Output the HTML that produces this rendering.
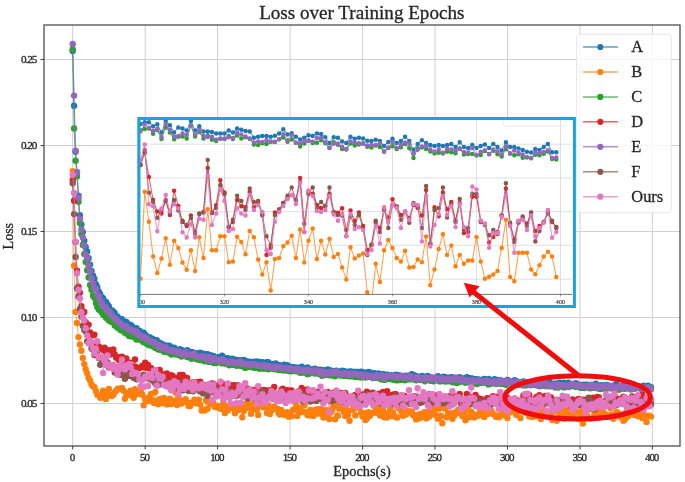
<!DOCTYPE html><html><head><meta charset="utf-8"><style>html,body{margin:0;padding:0;background:#fff;width:685px;height:482px;overflow:hidden}svg{display:block;filter:blur(0.45px)}text{font-family:"Liberation Serif",serif;fill:#262626;stroke:#262626;stroke-width:0.3px}</style></head><body>
<svg width="685" height="482" viewBox="0 0 685 482">
<defs><clipPath id="pc"><rect x="44" y="25" width="636" height="421"/></clipPath><clipPath id="tc"><rect x="140.2" y="295" width="432" height="12"/></clipPath><clipPath id="ic"><rect x="139" y="119" width="433.2" height="175.4"/></clipPath></defs>
<path d="M72.7 25V446M145.2 25V446M217.6 25V446M290.1 25V446M362.6 25V446M435 25V446M507.5 25V446M580 25V446M652.4 25V446M44 403.5H680M44 317.5H680M44 231.5H680M44 145.5H680M44 59.5H680" stroke="#d0d0d0" stroke-width="1" fill="none"/>
<g clip-path="url(#pc)">
<path d="M72.7 50.9 74.1 105.7 75.6 151.8 77 172.1 78.5 195.8 79.9 215.2 81.4 224.4 82.8 232.1 84.3 240.6 85.7 247 87.2 251.7 88.6 258.3 90.1 264.6 91.5 271 93 275.4 94.4 278.7 95.9 284.2 97.3 287 98.8 291.6 100.2 294.2 101.7 297.1 103.1 298.1 104.6 301.2 106 302 107.5 304.2 108.9 306.5 110.4 310.3 111.8 310.3 113.3 311.5 114.7 313 116.2 316 117.6 316.6 119.1 318.5 120.5 319.7 122 319.1 123.4 321.6 124.9 321.8 126.3 321.9 127.8 324 129.2 324.4 130.7 325 132.1 326.1 133.6 328.3 135 328.3 136.5 328.2 137.9 331.7 139.4 330.7 140.8 332.3 142.3 333.9 143.7 332.6 145.2 334.6 146.6 337.1 148.1 336.8 149.5 337.1 151 338.6 152.4 338.6 153.9 340 155.3 340.1 156.8 340.1 158.2 342.7 159.7 342.6 161.1 343.9 162.6 344.1 164 345.7 165.5 345.8 166.9 346 168.4 345.6 169.8 345.9 171.3 348.5 172.7 348.6 174.2 347.8 175.6 350.6 177 349.8 178.5 350 179.9 349.3 181.4 350 182.8 351.1 184.3 351.4 185.7 351.6 187.2 350.3 188.6 352.2 190.1 352.3 191.5 352 193 352.6 194.4 352.9 195.9 353.9 197.3 353.2 198.8 353.8 200.2 352.6 201.7 353.4 203.1 354.2 204.6 353.9 206 355.1 207.5 354.2 208.9 355.3 210.4 355.1 211.8 357 213.3 355.9 214.7 357.9 216.2 358.4 217.6 357.2 219.1 358 220.5 357.3 222 355.8 223.4 358.7 224.9 358.8 226.3 358.3 227.8 358.3 229.2 359.1 230.7 359.3 232.1 358.7 233.6 359.1 235 360.6 236.5 360 237.9 360.1 239.4 361.2 240.8 360.3 242.3 361.4 243.7 360 245.2 360.8 246.6 361.1 248.1 361.8 249.5 361.6 251 363.4 252.4 362.8 253.9 361.6 255.3 363.9 256.8 361.5 258.2 363.9 259.7 361.9 261.1 363.4 262.6 362.2 264 362.9 265.5 364.5 266.9 362.2 268.4 362.2 269.8 363.7 271.3 364 272.7 364.2 274.2 365.1 275.6 363.5 277.1 365.1 278.5 364.9 279.9 365.8 281.4 365.8 282.8 366.6 284.3 364.6 285.7 366 287.2 365.3 288.6 366.3 290.1 367.1 291.5 367 293 367.3 294.4 367.1 295.9 367.6 297.3 367.7 298.8 368.8 300.2 368.5 301.7 366.6 303.1 368.8 304.6 369.3 306 368.3 307.5 367.5 308.9 370.2 310.4 369.3 311.8 369.8 313.3 370.9 314.7 368.8 316.2 369.6 317.6 369.6 319.1 370.5 320.5 369.6 322 370.5 323.4 370.3 324.9 371.2 326.3 371.5 327.8 369.4 329.2 371.1 330.7 370.5 332.1 370.9 333.6 371.4 335 371.5 336.5 370.7 337.9 371.6 339.4 371.6 340.8 371.5 342.3 370.6 343.7 371.2 345.2 371.5 346.6 372.5 348.1 373.3 349.5 371.4 351 371.5 352.4 372.5 353.9 372 355.3 371.9 356.8 372 358.2 372 359.7 373.3 361.1 371.7 362.6 374.2 364 372.5 365.5 372.9 366.9 372.7 368.4 371.9 369.8 372.3 371.3 374.7 372.7 375.3 374.2 373.2 375.6 374.9 377.1 374.1 378.5 373.5 380 375.7 381.4 376.2 382.9 374.3 384.3 374.5 385.7 374.9 387.2 374.7 388.6 375.6 390.1 376.2 391.5 375.2 393 375.9 394.4 376.6 395.9 374.8 397.3 375.4 398.8 375.1 400.2 376.3 401.7 376.1 403.1 376.5 404.6 376.5 406 375.6 407.5 376.5 408.9 375.6 410.4 375.7 411.8 374.3 413.3 377.4 414.7 375.5 416.2 376.4 417.6 376.4 419.1 377.7 420.5 376.9 422 376 423.4 376.7 424.9 376.7 426.3 377.1 427.8 375.9 429.2 377 430.7 378.9 432.1 377.7 433.6 378.8 435 380 436.5 377.7 437.9 376.2 439.4 377.3 440.8 378.5 442.3 378.3 443.7 376.6 445.2 377.5 446.6 377.6 448.1 377.8 449.5 377.8 451 377.2 452.4 377.4 453.9 377.8 455.3 378.9 456.8 377.7 458.2 378.7 459.7 377.3 461.1 379.4 462.6 378.5 464 378.5 465.5 379.8 466.9 377.2 468.4 377.6 469.8 379.3 471.3 378.4 472.7 378.8 474.2 381.5 475.6 379.1 477.1 379.5 478.5 379.5 480 380.6 481.4 380 482.9 380 484.3 378.9 485.8 379.7 487.2 380.1 488.6 378.9 490.1 380.8 491.5 380.7 493 382.1 494.4 379.2 495.9 379.9 497.3 380 498.8 380.3 500.2 380.9 501.7 380.9 503.1 381.3 504.6 381.4 506 381.2 507.5 380 508.9 380.9 510.4 381.5 511.8 382.1 513.3 382.2 514.7 380.3 516.2 381.3 517.6 381.8 519.1 382.2 520.5 382.9 522 382.1 523.4 381.4 524.9 382.5 526.3 382.5 527.8 382.5 529.2 382.3 530.7 383.9 532.1 382.8 533.6 383.4 535 381.9 536.5 383.4 537.9 382.3 539.4 381.6 540.8 383.2 542.3 383.6 543.7 382.9 545.2 383.2 546.6 384.1 548.1 382.9 549.5 381.6 551 383.7 552.4 383.7 553.9 384.5 555.3 383.4 556.8 384.8 558.2 384.7 559.7 382.7 561.1 384.7 562.6 383 564 382.7 565.5 383.9 566.9 383.7 568.4 382.6 569.8 384.5 571.3 384.9 572.7 385.6 574.2 384.5 575.6 383.3 577.1 383.8 578.5 385.5 580 385.5 581.4 385.2 582.9 384.6 584.3 385.1 585.8 384.8 587.2 384.8 588.7 385.4 590.1 385.2 591.5 385.1 593 385.4 594.4 384.9 595.9 383.8 597.3 385 598.8 385.5 600.2 387.1 601.7 385.3 603.1 387.3 604.6 386.9 606 385 607.5 385.1 608.9 385.9 610.4 387.3 611.8 386.1 613.3 386.4 614.7 385.3 616.2 383.9 617.6 385.7 619.1 386.6 620.5 387 622 386 623.4 386.2 624.9 387 626.3 386 627.8 387.1 629.2 385.2 630.7 385.2 632.1 385.2 633.6 386.6 635 385.8 636.5 386.3 637.9 386.6 639.4 386.6 640.8 387.4 642.3 387.6 643.7 385.7 645.2 386.5 646.6 386.2 648.1 385.6 649.5 387.9 651 387.1" stroke="#1f77b4" stroke-opacity="0.6" stroke-width="1.1" fill="none" stroke-linejoin="round"/>
<path d="M72.7 50.9h0M74.1 105.7h0M75.6 151.8h0M77 172.1h0M78.5 195.8h0M79.9 215.2h0M81.4 224.4h0M82.8 232.1h0M84.3 240.6h0M85.7 247h0M87.2 251.7h0M88.6 258.3h0M90.1 264.6h0M91.5 271h0M93 275.4h0M94.4 278.7h0M95.9 284.2h0M97.3 287h0M98.8 291.6h0M100.2 294.2h0M101.7 297.1h0M103.1 298.1h0M104.6 301.2h0M106 302h0M107.5 304.2h0M108.9 306.5h0M110.4 310.3h0M111.8 310.3h0M113.3 311.5h0M114.7 313h0M116.2 316h0M117.6 316.6h0M119.1 318.5h0M120.5 319.7h0M122 319.1h0M123.4 321.6h0M124.9 321.8h0M126.3 321.9h0M127.8 324h0M129.2 324.4h0M130.7 325h0M132.1 326.1h0M133.6 328.3h0M135 328.3h0M136.5 328.2h0M137.9 331.7h0M139.4 330.7h0M140.8 332.3h0M142.3 333.9h0M143.7 332.6h0M145.2 334.6h0M146.6 337.1h0M148.1 336.8h0M149.5 337.1h0M151 338.6h0M152.4 338.6h0M153.9 340h0M155.3 340.1h0M156.8 340.1h0M158.2 342.7h0M159.7 342.6h0M161.1 343.9h0M162.6 344.1h0M164 345.7h0M165.5 345.8h0M166.9 346h0M168.4 345.6h0M169.8 345.9h0M171.3 348.5h0M172.7 348.6h0M174.2 347.8h0M175.6 350.6h0M177 349.8h0M178.5 350h0M179.9 349.3h0M181.4 350h0M182.8 351.1h0M184.3 351.4h0M185.7 351.6h0M187.2 350.3h0M188.6 352.2h0M190.1 352.3h0M191.5 352h0M193 352.6h0M194.4 352.9h0M195.9 353.9h0M197.3 353.2h0M198.8 353.8h0M200.2 352.6h0M201.7 353.4h0M203.1 354.2h0M204.6 353.9h0M206 355.1h0M207.5 354.2h0M208.9 355.3h0M210.4 355.1h0M211.8 357h0M213.3 355.9h0M214.7 357.9h0M216.2 358.4h0M217.6 357.2h0M219.1 358h0M220.5 357.3h0M222 355.8h0M223.4 358.7h0M224.9 358.8h0M226.3 358.3h0M227.8 358.3h0M229.2 359.1h0M230.7 359.3h0M232.1 358.7h0M233.6 359.1h0M235 360.6h0M236.5 360h0M237.9 360.1h0M239.4 361.2h0M240.8 360.3h0M242.3 361.4h0M243.7 360h0M245.2 360.8h0M246.6 361.1h0M248.1 361.8h0M249.5 361.6h0M251 363.4h0M252.4 362.8h0M253.9 361.6h0M255.3 363.9h0M256.8 361.5h0M258.2 363.9h0M259.7 361.9h0M261.1 363.4h0M262.6 362.2h0M264 362.9h0M265.5 364.5h0M266.9 362.2h0M268.4 362.2h0M269.8 363.7h0M271.3 364h0M272.7 364.2h0M274.2 365.1h0M275.6 363.5h0M277.1 365.1h0M278.5 364.9h0M279.9 365.8h0M281.4 365.8h0M282.8 366.6h0M284.3 364.6h0M285.7 366h0M287.2 365.3h0M288.6 366.3h0M290.1 367.1h0M291.5 367h0M293 367.3h0M294.4 367.1h0M295.9 367.6h0M297.3 367.7h0M298.8 368.8h0M300.2 368.5h0M301.7 366.6h0M303.1 368.8h0M304.6 369.3h0M306 368.3h0M307.5 367.5h0M308.9 370.2h0M310.4 369.3h0M311.8 369.8h0M313.3 370.9h0M314.7 368.8h0M316.2 369.6h0M317.6 369.6h0M319.1 370.5h0M320.5 369.6h0M322 370.5h0M323.4 370.3h0M324.9 371.2h0M326.3 371.5h0M327.8 369.4h0M329.2 371.1h0M330.7 370.5h0M332.1 370.9h0M333.6 371.4h0M335 371.5h0M336.5 370.7h0M337.9 371.6h0M339.4 371.6h0M340.8 371.5h0M342.3 370.6h0M343.7 371.2h0M345.2 371.5h0M346.6 372.5h0M348.1 373.3h0M349.5 371.4h0M351 371.5h0M352.4 372.5h0M353.9 372h0M355.3 371.9h0M356.8 372h0M358.2 372h0M359.7 373.3h0M361.1 371.7h0M362.6 374.2h0M364 372.5h0M365.5 372.9h0M366.9 372.7h0M368.4 371.9h0M369.8 372.3h0M371.3 374.7h0M372.7 375.3h0M374.2 373.2h0M375.6 374.9h0M377.1 374.1h0M378.5 373.5h0M380 375.7h0M381.4 376.2h0M382.9 374.3h0M384.3 374.5h0M385.7 374.9h0M387.2 374.7h0M388.6 375.6h0M390.1 376.2h0M391.5 375.2h0M393 375.9h0M394.4 376.6h0M395.9 374.8h0M397.3 375.4h0M398.8 375.1h0M400.2 376.3h0M401.7 376.1h0M403.1 376.5h0M404.6 376.5h0M406 375.6h0M407.5 376.5h0M408.9 375.6h0M410.4 375.7h0M411.8 374.3h0M413.3 377.4h0M414.7 375.5h0M416.2 376.4h0M417.6 376.4h0M419.1 377.7h0M420.5 376.9h0M422 376h0M423.4 376.7h0M424.9 376.7h0M426.3 377.1h0M427.8 375.9h0M429.2 377h0M430.7 378.9h0M432.1 377.7h0M433.6 378.8h0M435 380h0M436.5 377.7h0M437.9 376.2h0M439.4 377.3h0M440.8 378.5h0M442.3 378.3h0M443.7 376.6h0M445.2 377.5h0M446.6 377.6h0M448.1 377.8h0M449.5 377.8h0M451 377.2h0M452.4 377.4h0M453.9 377.8h0M455.3 378.9h0M456.8 377.7h0M458.2 378.7h0M459.7 377.3h0M461.1 379.4h0M462.6 378.5h0M464 378.5h0M465.5 379.8h0M466.9 377.2h0M468.4 377.6h0M469.8 379.3h0M471.3 378.4h0M472.7 378.8h0M474.2 381.5h0M475.6 379.1h0M477.1 379.5h0M478.5 379.5h0M480 380.6h0M481.4 380h0M482.9 380h0M484.3 378.9h0M485.8 379.7h0M487.2 380.1h0M488.6 378.9h0M490.1 380.8h0M491.5 380.7h0M493 382.1h0M494.4 379.2h0M495.9 379.9h0M497.3 380h0M498.8 380.3h0M500.2 380.9h0M501.7 380.9h0M503.1 381.3h0M504.6 381.4h0M506 381.2h0M507.5 380h0M508.9 380.9h0M510.4 381.5h0M511.8 382.1h0M513.3 382.2h0M514.7 380.3h0M516.2 381.3h0M517.6 381.8h0M519.1 382.2h0M520.5 382.9h0M522 382.1h0M523.4 381.4h0M524.9 382.5h0M526.3 382.5h0M527.8 382.5h0M529.2 382.3h0M530.7 383.9h0M532.1 382.8h0M533.6 383.4h0M535 381.9h0M536.5 383.4h0M537.9 382.3h0M539.4 381.6h0M540.8 383.2h0M542.3 383.6h0M543.7 382.9h0M545.2 383.2h0M546.6 384.1h0M548.1 382.9h0M549.5 381.6h0M551 383.7h0M552.4 383.7h0M553.9 384.5h0M555.3 383.4h0M556.8 384.8h0M558.2 384.7h0M559.7 382.7h0M561.1 384.7h0M562.6 383h0M564 382.7h0M565.5 383.9h0M566.9 383.7h0M568.4 382.6h0M569.8 384.5h0M571.3 384.9h0M572.7 385.6h0M574.2 384.5h0M575.6 383.3h0M577.1 383.8h0M578.5 385.5h0M580 385.5h0M581.4 385.2h0M582.9 384.6h0M584.3 385.1h0M585.8 384.8h0M587.2 384.8h0M588.7 385.4h0M590.1 385.2h0M591.5 385.1h0M593 385.4h0M594.4 384.9h0M595.9 383.8h0M597.3 385h0M598.8 385.5h0M600.2 387.1h0M601.7 385.3h0M603.1 387.3h0M604.6 386.9h0M606 385h0M607.5 385.1h0M608.9 385.9h0M610.4 387.3h0M611.8 386.1h0M613.3 386.4h0M614.7 385.3h0M616.2 383.9h0M617.6 385.7h0M619.1 386.6h0M620.5 387h0M622 386h0M623.4 386.2h0M624.9 387h0M626.3 386h0M627.8 387.1h0M629.2 385.2h0M630.7 385.2h0M632.1 385.2h0M633.6 386.6h0M635 385.8h0M636.5 386.3h0M637.9 386.6h0M639.4 386.6h0M640.8 387.4h0M642.3 387.6h0M643.7 385.7h0M645.2 386.5h0M646.6 386.2h0M648.1 385.6h0M649.5 387.9h0M651 387.1h0" stroke="#1f77b4" stroke-width="6.4" stroke-linecap="round" fill="none"/>
<path d="M72.7 171.3 74.1 265.8 75.6 311.9 77 323 78.5 337.1 79.9 344.5 81.4 350.7 82.8 358 84.3 364.1 85.7 369.3 87.2 373.2 88.6 377.9 90.1 380.6 91.5 384.4 93 386.2 94.4 387.1 95.9 390.9 97.3 394.7 98.8 395.3 100.2 397.7 101.7 397.3 103.1 390.7 104.6 393.4 106 398.9 107.5 391.5 108.9 388.9 110.4 395 111.8 396 113.3 394.7 114.7 392.3 116.2 390.8 117.6 388.7 119.1 388.6 120.5 388.6 122 387.9 123.4 390.4 124.9 398.7 126.3 393.8 127.8 392.4 129.2 395.1 130.7 390.6 132.1 395.4 133.6 397.7 135 389.3 136.5 392.3 137.9 394.1 139.4 391.9 140.8 391.8 142.3 394.8 143.7 405.3 145.2 399.2 146.6 398.8 148.1 401 149.5 397.1 151 393.9 152.4 400.2 153.9 402.9 155.3 391.9 156.8 401.1 158.2 404.2 159.7 399.2 161.1 398.8 162.6 403 164 397.9 165.5 402.7 166.9 404.4 168.4 400.7 169.8 398.8 171.3 404 172.7 400.8 174.2 402.5 175.6 392.4 177 405 178.5 397.8 179.9 403.1 181.4 403.5 182.8 400.7 184.3 400.3 185.7 399.1 187.2 402.6 188.6 406 190.1 406 191.5 402.5 193 402.4 194.4 399.7 195.9 403.3 197.3 401.2 198.8 399.8 200.2 404.6 201.7 410.5 203.1 409.6 204.6 410.6 206 400.2 207.5 408.8 208.9 401.7 210.4 404 211.8 400.3 213.3 402.8 214.7 406.8 216.2 407.2 217.6 406.3 219.1 406.1 220.5 408.7 222 407.1 223.4 401.5 224.9 413 226.3 406.4 227.8 410.5 229.2 406.8 230.7 404.7 232.1 407.9 233.6 405.1 235 413.3 236.5 404.2 237.9 410.1 239.4 406 240.8 407.6 242.3 417.3 243.7 411.1 245.2 407.8 246.6 403.3 248.1 407.7 249.5 407.9 251 413.8 252.4 404.1 253.9 402.9 255.3 409.1 256.8 410 258.2 414.9 259.7 406.4 261.1 400.2 262.6 407.1 264 405.3 265.5 407.8 266.9 413.1 268.4 405.2 269.8 414.1 271.3 410.6 272.7 409 274.2 406.9 275.6 408.6 277.1 408.7 278.5 412.7 279.9 414.6 281.4 410 282.8 412.7 284.3 414.8 285.7 414.7 287.2 412.1 288.6 416.8 290.1 415.1 291.5 416.2 293 410 294.4 409.2 295.9 403.8 297.3 415.9 298.8 413.1 300.2 407.7 301.7 411.6 303.1 412 304.6 405.1 306 412.1 307.5 415 308.9 415.6 310.4 410 311.8 410.1 313.3 415.9 314.7 414.6 316.2 409.4 317.6 409.3 319.1 413.6 320.5 409.3 322 409.5 323.4 417.6 324.9 412.6 326.3 410.1 327.8 413.6 329.2 419 330.7 412.6 332.1 409.1 333.6 406.3 335 419.3 336.5 402.8 337.9 415.7 339.4 408.6 340.8 407.7 342.3 408.6 343.7 411.5 345.2 416 346.6 409.9 348.1 414.6 349.5 420.8 351 402.5 352.4 409.8 353.9 406 355.3 415.4 356.8 407.3 358.2 406.9 359.7 407 361.1 412.5 362.6 416.6 364 413.1 365.5 420.1 366.9 418.4 368.4 412.3 369.8 416 371.3 413.2 372.7 413.1 374.2 406.1 375.6 408.3 377.1 412.9 378.5 408.7 380 415.5 381.4 414.1 382.9 409.8 384.3 417.2 385.7 413.9 387.2 417.6 388.6 412.6 390.1 407.5 391.5 415.7 393 412.4 394.4 416.3 395.9 417.2 397.3 417.5 398.8 408.3 400.2 405.2 401.7 411.7 403.1 415.8 404.6 411 406 414.6 407.5 410.7 408.9 412.5 410.4 412.5 411.8 411.4 413.3 415.5 414.7 414.9 416.2 419.4 417.6 415 419.1 418.4 420.5 414 422 416.8 423.4 413.2 424.9 412 426.3 418.4 427.8 416.4 429.2 416.8 430.7 411 432.1 407.7 433.6 410.7 435 414.8 436.5 408.6 437.9 418.8 439.4 408.5 440.8 415.9 442.3 423.2 443.7 404.5 445.2 408.2 446.6 417.2 448.1 413.1 449.5 414.4 451 413.3 452.4 418.8 453.9 416 455.3 412.1 456.8 412.9 458.2 409.6 459.7 413.4 461.1 405.6 462.6 416.2 464 412.8 465.5 420.3 466.9 418 468.4 409.2 469.8 417 471.3 411.9 472.7 414 474.2 417.4 475.6 415 477.1 415.5 478.5 415.5 480 411.2 481.4 411.5 482.9 415.8 484.3 416.9 485.8 412.8 487.2 414.2 488.6 410.3 490.1 404.7 491.5 410.9 493 414 494.4 414.4 495.9 416.8 497.3 417 498.8 417.3 500.2 415.2 501.7 415.3 503.1 411.3 504.6 415.3 506 414.6 507.5 418.1 508.9 408.2 510.4 412.2 511.8 407.8 513.3 411.2 514.7 408.8 516.2 414.8 517.6 411.5 519.1 404.6 520.5 418.1 522 409.9 523.4 408.1 524.9 412.5 526.3 411.3 527.8 409.6 529.2 416.3 530.7 412.5 532.1 417 533.6 416.4 535 416.2 536.5 414.5 537.9 413.5 539.4 412.4 540.8 419 542.3 407.1 543.7 410 545.2 411.5 546.6 415.4 548.1 414.4 549.5 412.2 551 412.7 552.4 420.1 553.9 411.6 555.3 403.9 556.8 420.7 558.2 410.7 559.7 412.9 561.1 414.6 562.6 409.4 564 418.4 565.5 413.7 566.9 409.1 568.4 415 569.8 415.8 571.3 413.9 572.7 415.9 574.2 408.9 575.6 417.6 577.1 411.3 578.5 418.8 580 412 581.4 414.8 582.9 423.6 584.3 414.5 585.8 418.2 587.2 416 588.7 409.1 590.1 418.5 591.5 418.3 593 409.4 594.4 414.1 595.9 409.1 597.3 413.4 598.8 417.7 600.2 414.8 601.7 410.3 603.1 411.3 604.6 414.6 606 414.5 607.5 415.1 608.9 416.7 610.4 407.9 611.8 414.7 613.3 418.7 614.7 416.4 616.2 412.2 617.6 412.5 619.1 415.2 620.5 417.1 622 414.7 623.4 420.7 624.9 419.4 626.3 412 627.8 416.5 629.2 413.5 630.7 410.5 632.1 412.6 633.6 414.8 635 407.4 636.5 412.5 637.9 416.2 639.4 412.3 640.8 413.5 642.3 418 643.7 414.7 645.2 415.6 646.6 421.9 648.1 415.6 649.5 416 651 416.6" stroke="#ff7f0e" stroke-opacity="0.6" stroke-width="1.1" fill="none" stroke-linejoin="round"/>
<path d="M72.7 171.3h0M74.1 265.8h0M75.6 311.9h0M77 323h0M78.5 337.1h0M79.9 344.5h0M81.4 350.7h0M82.8 358h0M84.3 364.1h0M85.7 369.3h0M87.2 373.2h0M88.6 377.9h0M90.1 380.6h0M91.5 384.4h0M93 386.2h0M94.4 387.1h0M95.9 390.9h0M97.3 394.7h0M98.8 395.3h0M100.2 397.7h0M101.7 397.3h0M103.1 390.7h0M104.6 393.4h0M106 398.9h0M107.5 391.5h0M108.9 388.9h0M110.4 395h0M111.8 396h0M113.3 394.7h0M114.7 392.3h0M116.2 390.8h0M117.6 388.7h0M119.1 388.6h0M120.5 388.6h0M122 387.9h0M123.4 390.4h0M124.9 398.7h0M126.3 393.8h0M127.8 392.4h0M129.2 395.1h0M130.7 390.6h0M132.1 395.4h0M133.6 397.7h0M135 389.3h0M136.5 392.3h0M137.9 394.1h0M139.4 391.9h0M140.8 391.8h0M142.3 394.8h0M143.7 405.3h0M145.2 399.2h0M146.6 398.8h0M148.1 401h0M149.5 397.1h0M151 393.9h0M152.4 400.2h0M153.9 402.9h0M155.3 391.9h0M156.8 401.1h0M158.2 404.2h0M159.7 399.2h0M161.1 398.8h0M162.6 403h0M164 397.9h0M165.5 402.7h0M166.9 404.4h0M168.4 400.7h0M169.8 398.8h0M171.3 404h0M172.7 400.8h0M174.2 402.5h0M175.6 392.4h0M177 405h0M178.5 397.8h0M179.9 403.1h0M181.4 403.5h0M182.8 400.7h0M184.3 400.3h0M185.7 399.1h0M187.2 402.6h0M188.6 406h0M190.1 406h0M191.5 402.5h0M193 402.4h0M194.4 399.7h0M195.9 403.3h0M197.3 401.2h0M198.8 399.8h0M200.2 404.6h0M201.7 410.5h0M203.1 409.6h0M204.6 410.6h0M206 400.2h0M207.5 408.8h0M208.9 401.7h0M210.4 404h0M211.8 400.3h0M213.3 402.8h0M214.7 406.8h0M216.2 407.2h0M217.6 406.3h0M219.1 406.1h0M220.5 408.7h0M222 407.1h0M223.4 401.5h0M224.9 413h0M226.3 406.4h0M227.8 410.5h0M229.2 406.8h0M230.7 404.7h0M232.1 407.9h0M233.6 405.1h0M235 413.3h0M236.5 404.2h0M237.9 410.1h0M239.4 406h0M240.8 407.6h0M242.3 417.3h0M243.7 411.1h0M245.2 407.8h0M246.6 403.3h0M248.1 407.7h0M249.5 407.9h0M251 413.8h0M252.4 404.1h0M253.9 402.9h0M255.3 409.1h0M256.8 410h0M258.2 414.9h0M259.7 406.4h0M261.1 400.2h0M262.6 407.1h0M264 405.3h0M265.5 407.8h0M266.9 413.1h0M268.4 405.2h0M269.8 414.1h0M271.3 410.6h0M272.7 409h0M274.2 406.9h0M275.6 408.6h0M277.1 408.7h0M278.5 412.7h0M279.9 414.6h0M281.4 410h0M282.8 412.7h0M284.3 414.8h0M285.7 414.7h0M287.2 412.1h0M288.6 416.8h0M290.1 415.1h0M291.5 416.2h0M293 410h0M294.4 409.2h0M295.9 403.8h0M297.3 415.9h0M298.8 413.1h0M300.2 407.7h0M301.7 411.6h0M303.1 412h0M304.6 405.1h0M306 412.1h0M307.5 415h0M308.9 415.6h0M310.4 410h0M311.8 410.1h0M313.3 415.9h0M314.7 414.6h0M316.2 409.4h0M317.6 409.3h0M319.1 413.6h0M320.5 409.3h0M322 409.5h0M323.4 417.6h0M324.9 412.6h0M326.3 410.1h0M327.8 413.6h0M329.2 419h0M330.7 412.6h0M332.1 409.1h0M333.6 406.3h0M335 419.3h0M336.5 402.8h0M337.9 415.7h0M339.4 408.6h0M340.8 407.7h0M342.3 408.6h0M343.7 411.5h0M345.2 416h0M346.6 409.9h0M348.1 414.6h0M349.5 420.8h0M351 402.5h0M352.4 409.8h0M353.9 406h0M355.3 415.4h0M356.8 407.3h0M358.2 406.9h0M359.7 407h0M361.1 412.5h0M362.6 416.6h0M364 413.1h0M365.5 420.1h0M366.9 418.4h0M368.4 412.3h0M369.8 416h0M371.3 413.2h0M372.7 413.1h0M374.2 406.1h0M375.6 408.3h0M377.1 412.9h0M378.5 408.7h0M380 415.5h0M381.4 414.1h0M382.9 409.8h0M384.3 417.2h0M385.7 413.9h0M387.2 417.6h0M388.6 412.6h0M390.1 407.5h0M391.5 415.7h0M393 412.4h0M394.4 416.3h0M395.9 417.2h0M397.3 417.5h0M398.8 408.3h0M400.2 405.2h0M401.7 411.7h0M403.1 415.8h0M404.6 411h0M406 414.6h0M407.5 410.7h0M408.9 412.5h0M410.4 412.5h0M411.8 411.4h0M413.3 415.5h0M414.7 414.9h0M416.2 419.4h0M417.6 415h0M419.1 418.4h0M420.5 414h0M422 416.8h0M423.4 413.2h0M424.9 412h0M426.3 418.4h0M427.8 416.4h0M429.2 416.8h0M430.7 411h0M432.1 407.7h0M433.6 410.7h0M435 414.8h0M436.5 408.6h0M437.9 418.8h0M439.4 408.5h0M440.8 415.9h0M442.3 423.2h0M443.7 404.5h0M445.2 408.2h0M446.6 417.2h0M448.1 413.1h0M449.5 414.4h0M451 413.3h0M452.4 418.8h0M453.9 416h0M455.3 412.1h0M456.8 412.9h0M458.2 409.6h0M459.7 413.4h0M461.1 405.6h0M462.6 416.2h0M464 412.8h0M465.5 420.3h0M466.9 418h0M468.4 409.2h0M469.8 417h0M471.3 411.9h0M472.7 414h0M474.2 417.4h0M475.6 415h0M477.1 415.5h0M478.5 415.5h0M480 411.2h0M481.4 411.5h0M482.9 415.8h0M484.3 416.9h0M485.8 412.8h0M487.2 414.2h0M488.6 410.3h0M490.1 404.7h0M491.5 410.9h0M493 414h0M494.4 414.4h0M495.9 416.8h0M497.3 417h0M498.8 417.3h0M500.2 415.2h0M501.7 415.3h0M503.1 411.3h0M504.6 415.3h0M506 414.6h0M507.5 418.1h0M508.9 408.2h0M510.4 412.2h0M511.8 407.8h0M513.3 411.2h0M514.7 408.8h0M516.2 414.8h0M517.6 411.5h0M519.1 404.6h0M520.5 418.1h0M522 409.9h0M523.4 408.1h0M524.9 412.5h0M526.3 411.3h0M527.8 409.6h0M529.2 416.3h0M530.7 412.5h0M532.1 417h0M533.6 416.4h0M535 416.2h0M536.5 414.5h0M537.9 413.5h0M539.4 412.4h0M540.8 419h0M542.3 407.1h0M543.7 410h0M545.2 411.5h0M546.6 415.4h0M548.1 414.4h0M549.5 412.2h0M551 412.7h0M552.4 420.1h0M553.9 411.6h0M555.3 403.9h0M556.8 420.7h0M558.2 410.7h0M559.7 412.9h0M561.1 414.6h0M562.6 409.4h0M564 418.4h0M565.5 413.7h0M566.9 409.1h0M568.4 415h0M569.8 415.8h0M571.3 413.9h0M572.7 415.9h0M574.2 408.9h0M575.6 417.6h0M577.1 411.3h0M578.5 418.8h0M580 412h0M581.4 414.8h0M582.9 423.6h0M584.3 414.5h0M585.8 418.2h0M587.2 416h0M588.7 409.1h0M590.1 418.5h0M591.5 418.3h0M593 409.4h0M594.4 414.1h0M595.9 409.1h0M597.3 413.4h0M598.8 417.7h0M600.2 414.8h0M601.7 410.3h0M603.1 411.3h0M604.6 414.6h0M606 414.5h0M607.5 415.1h0M608.9 416.7h0M610.4 407.9h0M611.8 414.7h0M613.3 418.7h0M614.7 416.4h0M616.2 412.2h0M617.6 412.5h0M619.1 415.2h0M620.5 417.1h0M622 414.7h0M623.4 420.7h0M624.9 419.4h0M626.3 412h0M627.8 416.5h0M629.2 413.5h0M630.7 410.5h0M632.1 412.6h0M633.6 414.8h0M635 407.4h0M636.5 412.5h0M637.9 416.2h0M639.4 412.3h0M640.8 413.5h0M642.3 418h0M643.7 414.7h0M645.2 415.6h0M646.6 421.9h0M648.1 415.6h0M649.5 416h0M651 416.6h0" stroke="#ff7f0e" stroke-width="6.4" stroke-linecap="round" fill="none"/>
<path d="M72.7 49.2 74.1 128.4 75.6 160.7 77 176.4 78.5 201.8 79.9 222.9 81.4 234 82.8 245 84.3 253.9 85.7 261.9 87.2 270.3 88.6 277.5 90.1 285 91.5 289.7 93 295.4 94.4 297.8 95.9 302.9 97.3 306.9 98.8 309.4 100.2 310.4 101.7 312.2 103.1 314.4 104.6 315.6 106 317.8 107.5 318.4 108.9 320.6 110.4 321.3 111.8 321.9 113.3 322 114.7 325.6 116.2 326.3 117.6 327.7 119.1 327.6 120.5 329.9 122 330.5 123.4 331.1 124.9 332.7 126.3 333.6 127.8 334.2 129.2 336.1 130.7 336.4 132.1 336.5 133.6 336.8 135 337.8 136.5 339.6 137.9 339.3 139.4 339.2 140.8 340 142.3 341.1 143.7 342.3 145.2 341.8 146.6 343.5 148.1 344.7 149.5 345.2 151 344.4 152.4 346 153.9 346.1 155.3 347.9 156.8 347.7 158.2 349.4 159.7 349.8 161.1 348.7 162.6 350.5 164 351.8 165.5 351.9 166.9 352 168.4 351.8 169.8 353.3 171.3 354.6 172.7 353.9 174.2 354.1 175.6 354.4 177 353.9 178.5 354.9 179.9 355 181.4 356.6 182.8 355.6 184.3 355.1 185.7 356.3 187.2 357 188.6 357.3 190.1 356.5 191.5 358.7 193 358.4 194.4 358.3 195.9 358.4 197.3 359.5 198.8 359.3 200.2 360 201.7 360 203.1 360.4 204.6 361.3 206 360.8 207.5 360.4 208.9 361.9 210.4 361.6 211.8 361.3 213.3 362.7 214.7 362 216.2 363.1 217.6 361.8 219.1 361.2 220.5 361.6 222 363.4 223.4 362.9 224.9 363.6 226.3 363.8 227.8 363 229.2 365.2 230.7 363.8 232.1 364.7 233.6 363.9 235 365 236.5 365.8 237.9 365.3 239.4 365.2 240.8 365.9 242.3 365.8 243.7 366.6 245.2 367.9 246.6 366 248.1 366.4 249.5 366.9 251 367.1 252.4 366.5 253.9 367.7 255.3 367.9 256.8 367.7 258.2 366.8 259.7 368.7 261.1 367 262.6 368.4 264 368.8 265.5 367.3 266.9 368.3 268.4 369.2 269.8 368.7 271.3 368 272.7 368 274.2 369.3 275.6 368.9 277.1 368.8 278.5 370 279.9 369.5 281.4 369.9 282.8 370.4 284.3 370.6 285.7 370.4 287.2 370.6 288.6 371.1 290.1 371.2 291.5 370.3 293 371.1 294.4 370.8 295.9 370.8 297.3 371.4 298.8 370.4 300.2 372.7 301.7 371.7 303.1 372.6 304.6 371.3 306 371.6 307.5 374.3 308.9 373.7 310.4 372.8 311.8 372.8 313.3 373 314.7 373.6 316.2 373.4 317.6 373.3 319.1 374 320.5 373.3 322 375.7 323.4 373.8 324.9 375.1 326.3 373.8 327.8 374.7 329.2 375.3 330.7 374.5 332.1 375.5 333.6 375.6 335 376.2 336.5 375.2 337.9 375 339.4 374.7 340.8 375.6 342.3 374.9 343.7 375.7 345.2 375.9 346.6 375.5 348.1 375.3 349.5 376.4 351 376.4 352.4 376.4 353.9 376.4 355.3 377.1 356.8 375.9 358.2 377 359.7 376.5 361.1 377.5 362.6 376.8 364 376.8 365.5 377.5 366.9 375.9 368.4 377.1 369.8 376.3 371.3 376.9 372.7 378.1 374.2 378 375.6 377.5 377.1 377.9 378.5 378 380 378.3 381.4 379.4 382.9 378.4 384.3 379.9 385.7 378.2 387.2 379.1 388.6 379.1 390.1 378.9 391.5 378.6 393 379.8 394.4 380.1 395.9 379.7 397.3 380.4 398.8 379.7 400.2 378 401.7 379.9 403.1 378.7 404.6 380.2 406 379.1 407.5 379.6 408.9 379.4 410.4 379 411.8 378.3 413.3 379.4 414.7 379.5 416.2 380.3 417.6 379.3 419.1 379.9 420.5 379.2 422 379.9 423.4 378.7 424.9 381.3 426.3 380.2 427.8 379.4 429.2 380.3 430.7 380.7 432.1 380.4 433.6 381.2 435 380.3 436.5 378.7 437.9 379.7 439.4 381.3 440.8 381.3 442.3 381 443.7 380.1 445.2 381.5 446.6 381.4 448.1 380.4 449.5 380.5 451 381.5 452.4 382 453.9 382.4 455.3 381.9 456.8 383 458.2 381.1 459.7 382.1 461.1 381.4 462.6 380.5 464 381 465.5 382.7 466.9 381.4 468.4 381.2 469.8 382.6 471.3 382.8 472.7 382.3 474.2 383.4 475.6 381.3 477.1 384.1 478.5 383.2 480 382.7 481.4 382.8 482.9 382.5 484.3 382.5 485.8 382.9 487.2 382.1 488.6 384.4 490.1 383 491.5 383.5 493 383 494.4 383 495.9 383.8 497.3 383.7 498.8 382.8 500.2 383.1 501.7 383.9 503.1 382.1 504.6 382 506 384.7 507.5 383.5 508.9 382.1 510.4 383.4 511.8 383.8 513.3 384.2 514.7 384.5 516.2 384.3 517.6 384.6 519.1 383.8 520.5 384.7 522 384.8 523.4 385.4 524.9 384.6 526.3 385.3 527.8 384.9 529.2 384.1 530.7 384.6 532.1 384.6 533.6 384.8 535 385.1 536.5 385.3 537.9 385.5 539.4 384.8 540.8 386.1 542.3 384.5 543.7 385.5 545.2 386.1 546.6 386 548.1 386.2 549.5 385.7 551 386.3 552.4 385.1 553.9 386.5 555.3 387.6 556.8 386.6 558.2 387.6 559.7 386.3 561.1 385.6 562.6 385.9 564 387.4 565.5 387 566.9 385.4 568.4 386.4 569.8 386.7 571.3 386 572.7 385.1 574.2 386 575.6 386.9 577.1 386.8 578.5 386.7 580 387.6 581.4 387.9 582.9 387.2 584.3 388 585.8 387.4 587.2 387.4 588.7 385.9 590.1 388.2 591.5 387.7 593 387.8 594.4 387.5 595.9 387.1 597.3 388.2 598.8 388.5 600.2 389.1 601.7 388.7 603.1 387.7 604.6 388 606 388.8 607.5 388.4 608.9 388.1 610.4 387.8 611.8 388.6 613.3 388.3 614.7 389.4 616.2 389 617.6 387.1 619.1 389.7 620.5 388.5 622 388.1 623.4 388.5 624.9 388.8 626.3 388.3 627.8 388.3 629.2 388.4 630.7 389.6 632.1 388.5 633.6 389 635 388.8 636.5 388.2 637.9 388 639.4 387.8 640.8 388.8 642.3 387.8 643.7 387.7 645.2 387.7 646.6 387.5 648.1 388.6 649.5 388.6 651 388" stroke="#2ca02c" stroke-opacity="0.6" stroke-width="1.1" fill="none" stroke-linejoin="round"/>
<path d="M72.7 49.2h0M74.1 128.4h0M75.6 160.7h0M77 176.4h0M78.5 201.8h0M79.9 222.9h0M81.4 234h0M82.8 245h0M84.3 253.9h0M85.7 261.9h0M87.2 270.3h0M88.6 277.5h0M90.1 285h0M91.5 289.7h0M93 295.4h0M94.4 297.8h0M95.9 302.9h0M97.3 306.9h0M98.8 309.4h0M100.2 310.4h0M101.7 312.2h0M103.1 314.4h0M104.6 315.6h0M106 317.8h0M107.5 318.4h0M108.9 320.6h0M110.4 321.3h0M111.8 321.9h0M113.3 322h0M114.7 325.6h0M116.2 326.3h0M117.6 327.7h0M119.1 327.6h0M120.5 329.9h0M122 330.5h0M123.4 331.1h0M124.9 332.7h0M126.3 333.6h0M127.8 334.2h0M129.2 336.1h0M130.7 336.4h0M132.1 336.5h0M133.6 336.8h0M135 337.8h0M136.5 339.6h0M137.9 339.3h0M139.4 339.2h0M140.8 340h0M142.3 341.1h0M143.7 342.3h0M145.2 341.8h0M146.6 343.5h0M148.1 344.7h0M149.5 345.2h0M151 344.4h0M152.4 346h0M153.9 346.1h0M155.3 347.9h0M156.8 347.7h0M158.2 349.4h0M159.7 349.8h0M161.1 348.7h0M162.6 350.5h0M164 351.8h0M165.5 351.9h0M166.9 352h0M168.4 351.8h0M169.8 353.3h0M171.3 354.6h0M172.7 353.9h0M174.2 354.1h0M175.6 354.4h0M177 353.9h0M178.5 354.9h0M179.9 355h0M181.4 356.6h0M182.8 355.6h0M184.3 355.1h0M185.7 356.3h0M187.2 357h0M188.6 357.3h0M190.1 356.5h0M191.5 358.7h0M193 358.4h0M194.4 358.3h0M195.9 358.4h0M197.3 359.5h0M198.8 359.3h0M200.2 360h0M201.7 360h0M203.1 360.4h0M204.6 361.3h0M206 360.8h0M207.5 360.4h0M208.9 361.9h0M210.4 361.6h0M211.8 361.3h0M213.3 362.7h0M214.7 362h0M216.2 363.1h0M217.6 361.8h0M219.1 361.2h0M220.5 361.6h0M222 363.4h0M223.4 362.9h0M224.9 363.6h0M226.3 363.8h0M227.8 363h0M229.2 365.2h0M230.7 363.8h0M232.1 364.7h0M233.6 363.9h0M235 365h0M236.5 365.8h0M237.9 365.3h0M239.4 365.2h0M240.8 365.9h0M242.3 365.8h0M243.7 366.6h0M245.2 367.9h0M246.6 366h0M248.1 366.4h0M249.5 366.9h0M251 367.1h0M252.4 366.5h0M253.9 367.7h0M255.3 367.9h0M256.8 367.7h0M258.2 366.8h0M259.7 368.7h0M261.1 367h0M262.6 368.4h0M264 368.8h0M265.5 367.3h0M266.9 368.3h0M268.4 369.2h0M269.8 368.7h0M271.3 368h0M272.7 368h0M274.2 369.3h0M275.6 368.9h0M277.1 368.8h0M278.5 370h0M279.9 369.5h0M281.4 369.9h0M282.8 370.4h0M284.3 370.6h0M285.7 370.4h0M287.2 370.6h0M288.6 371.1h0M290.1 371.2h0M291.5 370.3h0M293 371.1h0M294.4 370.8h0M295.9 370.8h0M297.3 371.4h0M298.8 370.4h0M300.2 372.7h0M301.7 371.7h0M303.1 372.6h0M304.6 371.3h0M306 371.6h0M307.5 374.3h0M308.9 373.7h0M310.4 372.8h0M311.8 372.8h0M313.3 373h0M314.7 373.6h0M316.2 373.4h0M317.6 373.3h0M319.1 374h0M320.5 373.3h0M322 375.7h0M323.4 373.8h0M324.9 375.1h0M326.3 373.8h0M327.8 374.7h0M329.2 375.3h0M330.7 374.5h0M332.1 375.5h0M333.6 375.6h0M335 376.2h0M336.5 375.2h0M337.9 375h0M339.4 374.7h0M340.8 375.6h0M342.3 374.9h0M343.7 375.7h0M345.2 375.9h0M346.6 375.5h0M348.1 375.3h0M349.5 376.4h0M351 376.4h0M352.4 376.4h0M353.9 376.4h0M355.3 377.1h0M356.8 375.9h0M358.2 377h0M359.7 376.5h0M361.1 377.5h0M362.6 376.8h0M364 376.8h0M365.5 377.5h0M366.9 375.9h0M368.4 377.1h0M369.8 376.3h0M371.3 376.9h0M372.7 378.1h0M374.2 378h0M375.6 377.5h0M377.1 377.9h0M378.5 378h0M380 378.3h0M381.4 379.4h0M382.9 378.4h0M384.3 379.9h0M385.7 378.2h0M387.2 379.1h0M388.6 379.1h0M390.1 378.9h0M391.5 378.6h0M393 379.8h0M394.4 380.1h0M395.9 379.7h0M397.3 380.4h0M398.8 379.7h0M400.2 378h0M401.7 379.9h0M403.1 378.7h0M404.6 380.2h0M406 379.1h0M407.5 379.6h0M408.9 379.4h0M410.4 379h0M411.8 378.3h0M413.3 379.4h0M414.7 379.5h0M416.2 380.3h0M417.6 379.3h0M419.1 379.9h0M420.5 379.2h0M422 379.9h0M423.4 378.7h0M424.9 381.3h0M426.3 380.2h0M427.8 379.4h0M429.2 380.3h0M430.7 380.7h0M432.1 380.4h0M433.6 381.2h0M435 380.3h0M436.5 378.7h0M437.9 379.7h0M439.4 381.3h0M440.8 381.3h0M442.3 381h0M443.7 380.1h0M445.2 381.5h0M446.6 381.4h0M448.1 380.4h0M449.5 380.5h0M451 381.5h0M452.4 382h0M453.9 382.4h0M455.3 381.9h0M456.8 383h0M458.2 381.1h0M459.7 382.1h0M461.1 381.4h0M462.6 380.5h0M464 381h0M465.5 382.7h0M466.9 381.4h0M468.4 381.2h0M469.8 382.6h0M471.3 382.8h0M472.7 382.3h0M474.2 383.4h0M475.6 381.3h0M477.1 384.1h0M478.5 383.2h0M480 382.7h0M481.4 382.8h0M482.9 382.5h0M484.3 382.5h0M485.8 382.9h0M487.2 382.1h0M488.6 384.4h0M490.1 383h0M491.5 383.5h0M493 383h0M494.4 383h0M495.9 383.8h0M497.3 383.7h0M498.8 382.8h0M500.2 383.1h0M501.7 383.9h0M503.1 382.1h0M504.6 382h0M506 384.7h0M507.5 383.5h0M508.9 382.1h0M510.4 383.4h0M511.8 383.8h0M513.3 384.2h0M514.7 384.5h0M516.2 384.3h0M517.6 384.6h0M519.1 383.8h0M520.5 384.7h0M522 384.8h0M523.4 385.4h0M524.9 384.6h0M526.3 385.3h0M527.8 384.9h0M529.2 384.1h0M530.7 384.6h0M532.1 384.6h0M533.6 384.8h0M535 385.1h0M536.5 385.3h0M537.9 385.5h0M539.4 384.8h0M540.8 386.1h0M542.3 384.5h0M543.7 385.5h0M545.2 386.1h0M546.6 386h0M548.1 386.2h0M549.5 385.7h0M551 386.3h0M552.4 385.1h0M553.9 386.5h0M555.3 387.6h0M556.8 386.6h0M558.2 387.6h0M559.7 386.3h0M561.1 385.6h0M562.6 385.9h0M564 387.4h0M565.5 387h0M566.9 385.4h0M568.4 386.4h0M569.8 386.7h0M571.3 386h0M572.7 385.1h0M574.2 386h0M575.6 386.9h0M577.1 386.8h0M578.5 386.7h0M580 387.6h0M581.4 387.9h0M582.9 387.2h0M584.3 388h0M585.8 387.4h0M587.2 387.4h0M588.7 385.9h0M590.1 388.2h0M591.5 387.7h0M593 387.8h0M594.4 387.5h0M595.9 387.1h0M597.3 388.2h0M598.8 388.5h0M600.2 389.1h0M601.7 388.7h0M603.1 387.7h0M604.6 388h0M606 388.8h0M607.5 388.4h0M608.9 388.1h0M610.4 387.8h0M611.8 388.6h0M613.3 388.3h0M614.7 389.4h0M616.2 389h0M617.6 387.1h0M619.1 389.7h0M620.5 388.5h0M622 388.1h0M623.4 388.5h0M624.9 388.8h0M626.3 388.3h0M627.8 388.3h0M629.2 388.4h0M630.7 389.6h0M632.1 388.5h0M633.6 389h0M635 388.8h0M636.5 388.2h0M637.9 388h0M639.4 387.8h0M640.8 388.8h0M642.3 387.8h0M643.7 387.7h0M645.2 387.7h0M646.6 387.5h0M648.1 388.6h0M649.5 388.6h0M651 388h0" stroke="#2ca02c" stroke-width="6.4" stroke-linecap="round" fill="none"/>
<path d="M72.7 179.9 74.1 200.8 75.6 241.9 77 270.8 78.5 286.6 79.9 292.6 81.4 306.2 82.8 311.2 84.3 311.9 85.7 322.1 87.2 325.7 88.6 324.6 90.1 332.4 91.5 334.5 93 335.2 94.4 334.8 95.9 346.4 97.3 344.1 98.8 346.4 100.2 348.2 101.7 348.8 103.1 349.9 104.6 347.6 106 352.1 107.5 350.2 108.9 350.3 110.4 354.6 111.8 353 113.3 349.4 114.7 354.1 116.2 357.7 117.6 356.9 119.1 360.3 120.5 357.7 122 356.8 123.4 362.5 124.9 361.5 126.3 358.4 127.8 363.8 129.2 362.5 130.7 366.7 132.1 366.7 133.6 366.4 135 359.5 136.5 367.1 137.9 367.9 139.4 368.3 140.8 367.6 142.3 365.7 143.7 367.4 145.2 362.6 146.6 368 148.1 365 149.5 368.5 151 368 152.4 373.9 153.9 370.8 155.3 371.1 156.8 372.1 158.2 377.8 159.7 370 161.1 373.9 162.6 374.5 164 374.4 165.5 374.8 166.9 373.5 168.4 378.5 169.8 378 171.3 375.1 172.7 375.9 174.2 377.7 175.6 378.6 177 379.7 178.5 378 179.9 375 181.4 381.4 182.8 374.9 184.3 377.1 185.7 380.9 187.2 377.9 188.6 384.3 190.1 385.3 191.5 384.5 193 382.5 194.4 382.6 195.9 383.4 197.3 382.1 198.8 388.3 200.2 381.7 201.7 387 203.1 385.3 204.6 384.9 206 387.1 207.5 387.9 208.9 387.2 210.4 384.8 211.8 383.5 213.3 383.8 214.7 388.1 216.2 387.8 217.6 388.3 219.1 385 220.5 391.7 222 383.4 223.4 388.1 224.9 389.1 226.3 386.4 227.8 384.8 229.2 386.8 230.7 385.2 232.1 387.8 233.6 385.2 235 385.4 236.5 389 237.9 385.3 239.4 388.7 240.8 389.1 242.3 391.9 243.7 390.5 245.2 387.9 246.6 393.5 248.1 388.7 249.5 389.6 251 390 252.4 396.6 253.9 391.3 255.3 389.6 256.8 393.4 258.2 391.4 259.7 397.9 261.1 390.3 262.6 393.7 264 389.9 265.5 396.9 266.9 390.5 268.4 392.9 269.8 390.3 271.3 394.8 272.7 394.1 274.2 386.9 275.6 394.8 277.1 394.6 278.5 393.5 279.9 395.5 281.4 389.9 282.8 388.6 284.3 394.9 285.7 397.5 287.2 390.2 288.6 390.4 290.1 391.2 291.5 390.4 293 395.7 294.4 394 295.9 397.1 297.3 397.3 298.8 391.2 300.2 395.5 301.7 388 303.1 393.7 304.6 395.6 306 392 307.5 389.5 308.9 392.9 310.4 397.3 311.8 393.3 313.3 390.8 314.7 395.6 316.2 396.4 317.6 391.9 319.1 394.2 320.5 397.4 322 395.6 323.4 396.6 324.9 394 326.3 394.5 327.8 391.9 329.2 393.1 330.7 398.9 332.1 394 333.6 392.8 335 394 336.5 392.6 337.9 396.6 339.4 397.7 340.8 393 342.3 398.1 343.7 400.9 345.2 392.9 346.6 397.4 348.1 396.4 349.5 399.2 351 399 352.4 398.7 353.9 396.7 355.3 394.9 356.8 401.7 358.2 394 359.7 399 361.1 398.7 362.6 394.4 364 396.3 365.5 400 366.9 391.6 368.4 398.4 369.8 395.7 371.3 395.8 372.7 392.8 374.2 397.6 375.6 393.9 377.1 398.4 378.5 393.8 380 398.5 381.4 397.6 382.9 391.9 384.3 396 385.7 396.5 387.2 391.2 388.6 396 390.1 399 391.5 395.1 393 400 394.4 394.2 395.9 394.1 397.3 398.6 398.8 398.8 400.2 396.8 401.7 397.2 403.1 399.8 404.6 395.9 406 402.5 407.5 398.5 408.9 398.5 410.4 398.2 411.8 396.8 413.3 400.7 414.7 396.2 416.2 398.2 417.6 399.4 419.1 401.2 420.5 400.8 422 397 423.4 400.4 424.9 397.8 426.3 395.4 427.8 395.5 429.2 394.2 430.7 398.9 432.1 400.9 433.6 395.7 435 397.5 436.5 395.5 437.9 398.4 439.4 395.5 440.8 396.4 442.3 396.7 443.7 397.3 445.2 397.6 446.6 398.1 448.1 398.1 449.5 396.3 451 400 452.4 394.5 453.9 399.1 455.3 396.5 456.8 399.2 458.2 399.6 459.7 394 461.1 399.8 462.6 402.3 464 400.9 465.5 400 466.9 393.9 468.4 398.8 469.8 397 471.3 401.8 472.7 398.5 474.2 397.8 475.6 395 477.1 401.2 478.5 398.1 480 398.8 481.4 402.2 482.9 399.7 484.3 400.4 485.8 405.5 487.2 398.3 488.6 398.5 490.1 400.9 491.5 403.2 493 396.3 494.4 399.3 495.9 397.5 497.3 396.6 498.8 401.4 500.2 398.1 501.7 400.8 503.1 400.3 504.6 400.4 506 400.3 507.5 397.6 508.9 400 510.4 400.7 511.8 401 513.3 399.5 514.7 402.5 516.2 401.6 517.6 400.5 519.1 401.8 520.5 400.7 522 401.9 523.4 395.5 524.9 397.1 526.3 399.3 527.8 400.5 529.2 395 530.7 399.6 532.1 400.6 533.6 399.7 535 399.7 536.5 397 537.9 400.5 539.4 395.3 540.8 402.6 542.3 398.8 543.7 402.9 545.2 396 546.6 401.3 548.1 400.6 549.5 398.2 551 397.4 552.4 403.2 553.9 401.4 555.3 403.9 556.8 400.2 558.2 400.8 559.7 401.4 561.1 402.2 562.6 401.5 564 402.4 565.5 399.3 566.9 396.9 568.4 405.3 569.8 400.9 571.3 401.6 572.7 399.4 574.2 402.9 575.6 401 577.1 403.2 578.5 398.9 580 400.4 581.4 401 582.9 399.7 584.3 401.3 585.8 404.4 587.2 399.2 588.7 400 590.1 401.1 591.5 398.3 593 397.7 594.4 403.4 595.9 402.6 597.3 397 598.8 397.3 600.2 402.5 601.7 403.6 603.1 402.3 604.6 401.9 606 404.6 607.5 400.7 608.9 403.9 610.4 403.7 611.8 398.5 613.3 402.4 614.7 401 616.2 399.3 617.6 398.8 619.1 401.6 620.5 400.7 622 402.8 623.4 396.6 624.9 399.2 626.3 403.5 627.8 400.8 629.2 399.1 630.7 399.7 632.1 396.4 633.6 397.5 635 402.2 636.5 401.1 637.9 404 639.4 400.3 640.8 400.5 642.3 394.4 643.7 400.7 645.2 405.9 646.6 402.5 648.1 400.6 649.5 403.9 651 403" stroke="#d62728" stroke-opacity="0.6" stroke-width="1.1" fill="none" stroke-linejoin="round"/>
<path d="M72.7 179.9h0M74.1 200.8h0M75.6 241.9h0M77 270.8h0M78.5 286.6h0M79.9 292.6h0M81.4 306.2h0M82.8 311.2h0M84.3 311.9h0M85.7 322.1h0M87.2 325.7h0M88.6 324.6h0M90.1 332.4h0M91.5 334.5h0M93 335.2h0M94.4 334.8h0M95.9 346.4h0M97.3 344.1h0M98.8 346.4h0M100.2 348.2h0M101.7 348.8h0M103.1 349.9h0M104.6 347.6h0M106 352.1h0M107.5 350.2h0M108.9 350.3h0M110.4 354.6h0M111.8 353h0M113.3 349.4h0M114.7 354.1h0M116.2 357.7h0M117.6 356.9h0M119.1 360.3h0M120.5 357.7h0M122 356.8h0M123.4 362.5h0M124.9 361.5h0M126.3 358.4h0M127.8 363.8h0M129.2 362.5h0M130.7 366.7h0M132.1 366.7h0M133.6 366.4h0M135 359.5h0M136.5 367.1h0M137.9 367.9h0M139.4 368.3h0M140.8 367.6h0M142.3 365.7h0M143.7 367.4h0M145.2 362.6h0M146.6 368h0M148.1 365h0M149.5 368.5h0M151 368h0M152.4 373.9h0M153.9 370.8h0M155.3 371.1h0M156.8 372.1h0M158.2 377.8h0M159.7 370h0M161.1 373.9h0M162.6 374.5h0M164 374.4h0M165.5 374.8h0M166.9 373.5h0M168.4 378.5h0M169.8 378h0M171.3 375.1h0M172.7 375.9h0M174.2 377.7h0M175.6 378.6h0M177 379.7h0M178.5 378h0M179.9 375h0M181.4 381.4h0M182.8 374.9h0M184.3 377.1h0M185.7 380.9h0M187.2 377.9h0M188.6 384.3h0M190.1 385.3h0M191.5 384.5h0M193 382.5h0M194.4 382.6h0M195.9 383.4h0M197.3 382.1h0M198.8 388.3h0M200.2 381.7h0M201.7 387h0M203.1 385.3h0M204.6 384.9h0M206 387.1h0M207.5 387.9h0M208.9 387.2h0M210.4 384.8h0M211.8 383.5h0M213.3 383.8h0M214.7 388.1h0M216.2 387.8h0M217.6 388.3h0M219.1 385h0M220.5 391.7h0M222 383.4h0M223.4 388.1h0M224.9 389.1h0M226.3 386.4h0M227.8 384.8h0M229.2 386.8h0M230.7 385.2h0M232.1 387.8h0M233.6 385.2h0M235 385.4h0M236.5 389h0M237.9 385.3h0M239.4 388.7h0M240.8 389.1h0M242.3 391.9h0M243.7 390.5h0M245.2 387.9h0M246.6 393.5h0M248.1 388.7h0M249.5 389.6h0M251 390h0M252.4 396.6h0M253.9 391.3h0M255.3 389.6h0M256.8 393.4h0M258.2 391.4h0M259.7 397.9h0M261.1 390.3h0M262.6 393.7h0M264 389.9h0M265.5 396.9h0M266.9 390.5h0M268.4 392.9h0M269.8 390.3h0M271.3 394.8h0M272.7 394.1h0M274.2 386.9h0M275.6 394.8h0M277.1 394.6h0M278.5 393.5h0M279.9 395.5h0M281.4 389.9h0M282.8 388.6h0M284.3 394.9h0M285.7 397.5h0M287.2 390.2h0M288.6 390.4h0M290.1 391.2h0M291.5 390.4h0M293 395.7h0M294.4 394h0M295.9 397.1h0M297.3 397.3h0M298.8 391.2h0M300.2 395.5h0M301.7 388h0M303.1 393.7h0M304.6 395.6h0M306 392h0M307.5 389.5h0M308.9 392.9h0M310.4 397.3h0M311.8 393.3h0M313.3 390.8h0M314.7 395.6h0M316.2 396.4h0M317.6 391.9h0M319.1 394.2h0M320.5 397.4h0M322 395.6h0M323.4 396.6h0M324.9 394h0M326.3 394.5h0M327.8 391.9h0M329.2 393.1h0M330.7 398.9h0M332.1 394h0M333.6 392.8h0M335 394h0M336.5 392.6h0M337.9 396.6h0M339.4 397.7h0M340.8 393h0M342.3 398.1h0M343.7 400.9h0M345.2 392.9h0M346.6 397.4h0M348.1 396.4h0M349.5 399.2h0M351 399h0M352.4 398.7h0M353.9 396.7h0M355.3 394.9h0M356.8 401.7h0M358.2 394h0M359.7 399h0M361.1 398.7h0M362.6 394.4h0M364 396.3h0M365.5 400h0M366.9 391.6h0M368.4 398.4h0M369.8 395.7h0M371.3 395.8h0M372.7 392.8h0M374.2 397.6h0M375.6 393.9h0M377.1 398.4h0M378.5 393.8h0M380 398.5h0M381.4 397.6h0M382.9 391.9h0M384.3 396h0M385.7 396.5h0M387.2 391.2h0M388.6 396h0M390.1 399h0M391.5 395.1h0M393 400h0M394.4 394.2h0M395.9 394.1h0M397.3 398.6h0M398.8 398.8h0M400.2 396.8h0M401.7 397.2h0M403.1 399.8h0M404.6 395.9h0M406 402.5h0M407.5 398.5h0M408.9 398.5h0M410.4 398.2h0M411.8 396.8h0M413.3 400.7h0M414.7 396.2h0M416.2 398.2h0M417.6 399.4h0M419.1 401.2h0M420.5 400.8h0M422 397h0M423.4 400.4h0M424.9 397.8h0M426.3 395.4h0M427.8 395.5h0M429.2 394.2h0M430.7 398.9h0M432.1 400.9h0M433.6 395.7h0M435 397.5h0M436.5 395.5h0M437.9 398.4h0M439.4 395.5h0M440.8 396.4h0M442.3 396.7h0M443.7 397.3h0M445.2 397.6h0M446.6 398.1h0M448.1 398.1h0M449.5 396.3h0M451 400h0M452.4 394.5h0M453.9 399.1h0M455.3 396.5h0M456.8 399.2h0M458.2 399.6h0M459.7 394h0M461.1 399.8h0M462.6 402.3h0M464 400.9h0M465.5 400h0M466.9 393.9h0M468.4 398.8h0M469.8 397h0M471.3 401.8h0M472.7 398.5h0M474.2 397.8h0M475.6 395h0M477.1 401.2h0M478.5 398.1h0M480 398.8h0M481.4 402.2h0M482.9 399.7h0M484.3 400.4h0M485.8 405.5h0M487.2 398.3h0M488.6 398.5h0M490.1 400.9h0M491.5 403.2h0M493 396.3h0M494.4 399.3h0M495.9 397.5h0M497.3 396.6h0M498.8 401.4h0M500.2 398.1h0M501.7 400.8h0M503.1 400.3h0M504.6 400.4h0M506 400.3h0M507.5 397.6h0M508.9 400h0M510.4 400.7h0M511.8 401h0M513.3 399.5h0M514.7 402.5h0M516.2 401.6h0M517.6 400.5h0M519.1 401.8h0M520.5 400.7h0M522 401.9h0M523.4 395.5h0M524.9 397.1h0M526.3 399.3h0M527.8 400.5h0M529.2 395h0M530.7 399.6h0M532.1 400.6h0M533.6 399.7h0M535 399.7h0M536.5 397h0M537.9 400.5h0M539.4 395.3h0M540.8 402.6h0M542.3 398.8h0M543.7 402.9h0M545.2 396h0M546.6 401.3h0M548.1 400.6h0M549.5 398.2h0M551 397.4h0M552.4 403.2h0M553.9 401.4h0M555.3 403.9h0M556.8 400.2h0M558.2 400.8h0M559.7 401.4h0M561.1 402.2h0M562.6 401.5h0M564 402.4h0M565.5 399.3h0M566.9 396.9h0M568.4 405.3h0M569.8 400.9h0M571.3 401.6h0M572.7 399.4h0M574.2 402.9h0M575.6 401h0M577.1 403.2h0M578.5 398.9h0M580 400.4h0M581.4 401h0M582.9 399.7h0M584.3 401.3h0M585.8 404.4h0M587.2 399.2h0M588.7 400h0M590.1 401.1h0M591.5 398.3h0M593 397.7h0M594.4 403.4h0M595.9 402.6h0M597.3 397h0M598.8 397.3h0M600.2 402.5h0M601.7 403.6h0M603.1 402.3h0M604.6 401.9h0M606 404.6h0M607.5 400.7h0M608.9 403.9h0M610.4 403.7h0M611.8 398.5h0M613.3 402.4h0M614.7 401h0M616.2 399.3h0M617.6 398.8h0M619.1 401.6h0M620.5 400.7h0M622 402.8h0M623.4 396.6h0M624.9 399.2h0M626.3 403.5h0M627.8 400.8h0M629.2 399.1h0M630.7 399.7h0M632.1 396.4h0M633.6 397.5h0M635 402.2h0M636.5 401.1h0M637.9 404h0M639.4 400.3h0M640.8 400.5h0M642.3 394.4h0M643.7 400.7h0M645.2 405.9h0M646.6 402.5h0M648.1 400.6h0M649.5 403.9h0M651 403h0" stroke="#d62728" stroke-width="6.4" stroke-linecap="round" fill="none"/>
<path d="M72.7 44 74.1 95.6 75.6 150.7 77 172.5 78.5 198 79.9 218.8 81.4 229.4 82.8 237.4 84.3 245.4 85.7 254.4 87.2 257.9 88.6 265.7 90.1 271.6 91.5 278.5 93 283.4 94.4 288.2 95.9 289 97.3 294.6 98.8 296 100.2 300.6 101.7 302.1 103.1 305.9 104.6 306.8 106 307.6 107.5 311.3 108.9 311 110.4 313.2 111.8 315.9 113.3 316.9 114.7 318.3 116.2 319.4 117.6 321.1 119.1 322.7 120.5 323.5 122 325 123.4 326.2 124.9 326 126.3 326.1 127.8 329.1 129.2 328.6 130.7 329.9 132.1 331.2 133.6 330.5 135 332.6 136.5 331.8 137.9 334.7 139.4 334.5 140.8 335.9 142.3 337.2 143.7 336.9 145.2 338.3 146.6 338.5 148.1 339.8 149.5 341.5 151 341.4 152.4 342 153.9 342 155.3 344.4 156.8 344.3 158.2 346.5 159.7 345.1 161.1 347.3 162.6 348.6 164 347.6 165.5 347.1 166.9 349.9 168.4 350 169.8 350.1 171.3 350.9 172.7 350.1 174.2 351.6 175.6 352 177 351.3 178.5 352.9 179.9 352.3 181.4 353.8 182.8 354.3 184.3 355.1 185.7 352.2 187.2 354.3 188.6 354.1 190.1 354.7 191.5 354.8 193 355.1 194.4 353.8 195.9 356.6 197.3 357.3 198.8 357.1 200.2 357.6 201.7 356.1 203.1 356.3 204.6 358.1 206 358.8 207.5 358.2 208.9 356.9 210.4 360.8 211.8 358.2 213.3 359.8 214.7 358.3 216.2 360.3 217.6 359.9 219.1 361.2 220.5 361 222 359.2 223.4 359.9 224.9 361.2 226.3 361.8 227.8 362.9 229.2 361.9 230.7 361.7 232.1 362 233.6 362.2 235 363.3 236.5 362.6 237.9 362.7 239.4 361.8 240.8 361.5 242.3 363.4 243.7 364.1 245.2 363.7 246.6 364.3 248.1 364.6 249.5 364.2 251 365.2 252.4 363.9 253.9 364.6 255.3 364.5 256.8 365 258.2 365.6 259.7 365.9 261.1 365.4 262.6 365.8 264 365.2 265.5 365.6 266.9 366.9 268.4 365.8 269.8 367.1 271.3 366.7 272.7 366.6 274.2 368.3 275.6 366.7 277.1 366.8 278.5 367.3 279.9 367.7 281.4 367.8 282.8 368.5 284.3 368.1 285.7 368.6 287.2 368.2 288.6 369.5 290.1 368.4 291.5 368.7 293 369.1 294.4 369.6 295.9 368.9 297.3 371 298.8 369.3 300.2 369.7 301.7 369.8 303.1 369.9 304.6 371 306 370.8 307.5 370.2 308.9 370.6 310.4 370.9 311.8 372.5 313.3 370.9 314.7 370.5 316.2 370.7 317.6 371.5 319.1 373.2 320.5 371.1 322 372.2 323.4 374.3 324.9 372 326.3 373.7 327.8 373.6 329.2 373.2 330.7 371.6 332.1 373.2 333.6 372.7 335 371.6 336.5 371.8 337.9 373.4 339.4 373.6 340.8 374.6 342.3 374.2 343.7 373.3 345.2 373.5 346.6 373.8 348.1 373.2 349.5 374.8 351 374.3 352.4 373.7 353.9 373.9 355.3 373.6 356.8 374.3 358.2 375 359.7 374.5 361.1 375.8 362.6 376.4 364 374.6 365.5 375.3 366.9 375.1 368.4 376.9 369.8 375.8 371.3 376.1 372.7 376.5 374.2 377.7 375.6 376.2 377.1 375.2 378.5 375.8 380 376.7 381.4 376.3 382.9 375.7 384.3 378.8 385.7 376.7 387.2 376.2 388.6 376.1 390.1 375.4 391.5 375.9 393 376.7 394.4 376.8 395.9 376.4 397.3 377.6 398.8 377.2 400.2 376.5 401.7 375.7 403.1 377.5 404.6 377.5 406 377.4 407.5 376.4 408.9 377.7 410.4 376.5 411.8 378.6 413.3 378 414.7 378.1 416.2 377.3 417.6 377.1 419.1 379.4 420.5 378.9 422 377.9 423.4 378.8 424.9 379.6 426.3 377.5 427.8 378 429.2 378.1 430.7 379 432.1 377.7 433.6 378.9 435 377.8 436.5 379.6 437.9 379.7 439.4 378.8 440.8 379.7 442.3 378.5 443.7 379 445.2 380.1 446.6 379.3 448.1 379.7 449.5 378.7 451 380.1 452.4 380 453.9 378.6 455.3 377.8 456.8 378.1 458.2 379.8 459.7 379.8 461.1 378.7 462.6 380.2 464 381 465.5 380.2 466.9 380 468.4 381.2 469.8 382 471.3 381.9 472.7 380.1 474.2 381.4 475.6 381 477.1 380.8 478.5 380.5 480 381.4 481.4 380.8 482.9 382 484.3 381.7 485.8 382.3 487.2 380.5 488.6 381.6 490.1 382.3 491.5 382 493 382 494.4 381.3 495.9 383.4 497.3 382.9 498.8 382.5 500.2 380 501.7 381.5 503.1 382.5 504.6 381.8 506 380.7 507.5 382.8 508.9 383 510.4 381.7 511.8 382.4 513.3 382.3 514.7 383.4 516.2 381.4 517.6 381.6 519.1 382.7 520.5 382.7 522 385.1 523.4 382.8 524.9 383.6 526.3 383.2 527.8 383 529.2 384 530.7 385.2 532.1 383.5 533.6 384.5 535 384.2 536.5 384.5 537.9 384.4 539.4 386.2 540.8 383.2 542.3 384.1 543.7 383.4 545.2 382.7 546.6 384.5 548.1 386.1 549.5 385.4 551 385.8 552.4 385.2 553.9 384.8 555.3 386.6 556.8 384.7 558.2 386.3 559.7 384.9 561.1 385.3 562.6 385.5 564 385.4 565.5 385.8 566.9 386 568.4 387 569.8 385.6 571.3 384.1 572.7 384 574.2 384.6 575.6 385.2 577.1 386.5 578.5 384.7 580 386.1 581.4 386.2 582.9 386.4 584.3 386.1 585.8 386.7 587.2 386.4 588.7 387.3 590.1 386.8 591.5 384.6 593 386.7 594.4 386.9 595.9 386.3 597.3 386.2 598.8 387.8 600.2 387.1 601.7 386.1 603.1 386.7 604.6 386.9 606 385.7 607.5 387.6 608.9 387 610.4 387.5 611.8 385.8 613.3 388.8 614.7 387.7 616.2 387.6 617.6 386.6 619.1 386.7 620.5 386 622 388.6 623.4 386.6 624.9 387.5 626.3 387.8 627.8 386.8 629.2 388.1 630.7 389.1 632.1 387.7 633.6 388.7 635 388 636.5 387.1 637.9 387.2 639.4 386.1 640.8 387.6 642.3 388.8 643.7 388.2 645.2 388.3 646.6 388.6 648.1 387.2 649.5 388.1 651 389.3" stroke="#9467bd" stroke-opacity="0.6" stroke-width="1.1" fill="none" stroke-linejoin="round"/>
<path d="M72.7 44h0M74.1 95.6h0M75.6 150.7h0M77 172.5h0M78.5 198h0M79.9 218.8h0M81.4 229.4h0M82.8 237.4h0M84.3 245.4h0M85.7 254.4h0M87.2 257.9h0M88.6 265.7h0M90.1 271.6h0M91.5 278.5h0M93 283.4h0M94.4 288.2h0M95.9 289h0M97.3 294.6h0M98.8 296h0M100.2 300.6h0M101.7 302.1h0M103.1 305.9h0M104.6 306.8h0M106 307.6h0M107.5 311.3h0M108.9 311h0M110.4 313.2h0M111.8 315.9h0M113.3 316.9h0M114.7 318.3h0M116.2 319.4h0M117.6 321.1h0M119.1 322.7h0M120.5 323.5h0M122 325h0M123.4 326.2h0M124.9 326h0M126.3 326.1h0M127.8 329.1h0M129.2 328.6h0M130.7 329.9h0M132.1 331.2h0M133.6 330.5h0M135 332.6h0M136.5 331.8h0M137.9 334.7h0M139.4 334.5h0M140.8 335.9h0M142.3 337.2h0M143.7 336.9h0M145.2 338.3h0M146.6 338.5h0M148.1 339.8h0M149.5 341.5h0M151 341.4h0M152.4 342h0M153.9 342h0M155.3 344.4h0M156.8 344.3h0M158.2 346.5h0M159.7 345.1h0M161.1 347.3h0M162.6 348.6h0M164 347.6h0M165.5 347.1h0M166.9 349.9h0M168.4 350h0M169.8 350.1h0M171.3 350.9h0M172.7 350.1h0M174.2 351.6h0M175.6 352h0M177 351.3h0M178.5 352.9h0M179.9 352.3h0M181.4 353.8h0M182.8 354.3h0M184.3 355.1h0M185.7 352.2h0M187.2 354.3h0M188.6 354.1h0M190.1 354.7h0M191.5 354.8h0M193 355.1h0M194.4 353.8h0M195.9 356.6h0M197.3 357.3h0M198.8 357.1h0M200.2 357.6h0M201.7 356.1h0M203.1 356.3h0M204.6 358.1h0M206 358.8h0M207.5 358.2h0M208.9 356.9h0M210.4 360.8h0M211.8 358.2h0M213.3 359.8h0M214.7 358.3h0M216.2 360.3h0M217.6 359.9h0M219.1 361.2h0M220.5 361h0M222 359.2h0M223.4 359.9h0M224.9 361.2h0M226.3 361.8h0M227.8 362.9h0M229.2 361.9h0M230.7 361.7h0M232.1 362h0M233.6 362.2h0M235 363.3h0M236.5 362.6h0M237.9 362.7h0M239.4 361.8h0M240.8 361.5h0M242.3 363.4h0M243.7 364.1h0M245.2 363.7h0M246.6 364.3h0M248.1 364.6h0M249.5 364.2h0M251 365.2h0M252.4 363.9h0M253.9 364.6h0M255.3 364.5h0M256.8 365h0M258.2 365.6h0M259.7 365.9h0M261.1 365.4h0M262.6 365.8h0M264 365.2h0M265.5 365.6h0M266.9 366.9h0M268.4 365.8h0M269.8 367.1h0M271.3 366.7h0M272.7 366.6h0M274.2 368.3h0M275.6 366.7h0M277.1 366.8h0M278.5 367.3h0M279.9 367.7h0M281.4 367.8h0M282.8 368.5h0M284.3 368.1h0M285.7 368.6h0M287.2 368.2h0M288.6 369.5h0M290.1 368.4h0M291.5 368.7h0M293 369.1h0M294.4 369.6h0M295.9 368.9h0M297.3 371h0M298.8 369.3h0M300.2 369.7h0M301.7 369.8h0M303.1 369.9h0M304.6 371h0M306 370.8h0M307.5 370.2h0M308.9 370.6h0M310.4 370.9h0M311.8 372.5h0M313.3 370.9h0M314.7 370.5h0M316.2 370.7h0M317.6 371.5h0M319.1 373.2h0M320.5 371.1h0M322 372.2h0M323.4 374.3h0M324.9 372h0M326.3 373.7h0M327.8 373.6h0M329.2 373.2h0M330.7 371.6h0M332.1 373.2h0M333.6 372.7h0M335 371.6h0M336.5 371.8h0M337.9 373.4h0M339.4 373.6h0M340.8 374.6h0M342.3 374.2h0M343.7 373.3h0M345.2 373.5h0M346.6 373.8h0M348.1 373.2h0M349.5 374.8h0M351 374.3h0M352.4 373.7h0M353.9 373.9h0M355.3 373.6h0M356.8 374.3h0M358.2 375h0M359.7 374.5h0M361.1 375.8h0M362.6 376.4h0M364 374.6h0M365.5 375.3h0M366.9 375.1h0M368.4 376.9h0M369.8 375.8h0M371.3 376.1h0M372.7 376.5h0M374.2 377.7h0M375.6 376.2h0M377.1 375.2h0M378.5 375.8h0M380 376.7h0M381.4 376.3h0M382.9 375.7h0M384.3 378.8h0M385.7 376.7h0M387.2 376.2h0M388.6 376.1h0M390.1 375.4h0M391.5 375.9h0M393 376.7h0M394.4 376.8h0M395.9 376.4h0M397.3 377.6h0M398.8 377.2h0M400.2 376.5h0M401.7 375.7h0M403.1 377.5h0M404.6 377.5h0M406 377.4h0M407.5 376.4h0M408.9 377.7h0M410.4 376.5h0M411.8 378.6h0M413.3 378h0M414.7 378.1h0M416.2 377.3h0M417.6 377.1h0M419.1 379.4h0M420.5 378.9h0M422 377.9h0M423.4 378.8h0M424.9 379.6h0M426.3 377.5h0M427.8 378h0M429.2 378.1h0M430.7 379h0M432.1 377.7h0M433.6 378.9h0M435 377.8h0M436.5 379.6h0M437.9 379.7h0M439.4 378.8h0M440.8 379.7h0M442.3 378.5h0M443.7 379h0M445.2 380.1h0M446.6 379.3h0M448.1 379.7h0M449.5 378.7h0M451 380.1h0M452.4 380h0M453.9 378.6h0M455.3 377.8h0M456.8 378.1h0M458.2 379.8h0M459.7 379.8h0M461.1 378.7h0M462.6 380.2h0M464 381h0M465.5 380.2h0M466.9 380h0M468.4 381.2h0M469.8 382h0M471.3 381.9h0M472.7 380.1h0M474.2 381.4h0M475.6 381h0M477.1 380.8h0M478.5 380.5h0M480 381.4h0M481.4 380.8h0M482.9 382h0M484.3 381.7h0M485.8 382.3h0M487.2 380.5h0M488.6 381.6h0M490.1 382.3h0M491.5 382h0M493 382h0M494.4 381.3h0M495.9 383.4h0M497.3 382.9h0M498.8 382.5h0M500.2 380h0M501.7 381.5h0M503.1 382.5h0M504.6 381.8h0M506 380.7h0M507.5 382.8h0M508.9 383h0M510.4 381.7h0M511.8 382.4h0M513.3 382.3h0M514.7 383.4h0M516.2 381.4h0M517.6 381.6h0M519.1 382.7h0M520.5 382.7h0M522 385.1h0M523.4 382.8h0M524.9 383.6h0M526.3 383.2h0M527.8 383h0M529.2 384h0M530.7 385.2h0M532.1 383.5h0M533.6 384.5h0M535 384.2h0M536.5 384.5h0M537.9 384.4h0M539.4 386.2h0M540.8 383.2h0M542.3 384.1h0M543.7 383.4h0M545.2 382.7h0M546.6 384.5h0M548.1 386.1h0M549.5 385.4h0M551 385.8h0M552.4 385.2h0M553.9 384.8h0M555.3 386.6h0M556.8 384.7h0M558.2 386.3h0M559.7 384.9h0M561.1 385.3h0M562.6 385.5h0M564 385.4h0M565.5 385.8h0M566.9 386h0M568.4 387h0M569.8 385.6h0M571.3 384.1h0M572.7 384h0M574.2 384.6h0M575.6 385.2h0M577.1 386.5h0M578.5 384.7h0M580 386.1h0M581.4 386.2h0M582.9 386.4h0M584.3 386.1h0M585.8 386.7h0M587.2 386.4h0M588.7 387.3h0M590.1 386.8h0M591.5 384.6h0M593 386.7h0M594.4 386.9h0M595.9 386.3h0M597.3 386.2h0M598.8 387.8h0M600.2 387.1h0M601.7 386.1h0M603.1 386.7h0M604.6 386.9h0M606 385.7h0M607.5 387.6h0M608.9 387h0M610.4 387.5h0M611.8 385.8h0M613.3 388.8h0M614.7 387.7h0M616.2 387.6h0M617.6 386.6h0M619.1 386.7h0M620.5 386h0M622 388.6h0M623.4 386.6h0M624.9 387.5h0M626.3 387.8h0M627.8 386.8h0M629.2 388.1h0M630.7 389.1h0M632.1 387.7h0M633.6 388.7h0M635 388h0M636.5 387.1h0M637.9 387.2h0M639.4 386.1h0M640.8 387.6h0M642.3 388.8h0M643.7 388.2h0M645.2 388.3h0M646.6 388.6h0M648.1 387.2h0M649.5 388.1h0M651 389.3h0" stroke="#9467bd" stroke-width="6.4" stroke-linecap="round" fill="none"/>
<path d="M72.7 183.3 74.1 214.1 75.6 256.9 77 288.5 78.5 296.4 79.9 308.9 81.4 316.8 82.8 325.8 84.3 329.9 85.7 331.4 87.2 341.2 88.6 341.5 90.1 343.3 91.5 348.6 93 349.6 94.4 355.1 95.9 351.5 97.3 354.1 98.8 358.1 100.2 364.7 101.7 364 103.1 360.2 104.6 359.4 106 363.6 107.5 362.2 108.9 367.4 110.4 367.2 111.8 367.5 113.3 367.2 114.7 372.5 116.2 367.4 117.6 367.2 119.1 373.6 120.5 374.7 122 371.3 123.4 374.3 124.9 378.7 126.3 371.9 127.8 373.9 129.2 375.9 130.7 370.4 132.1 375.4 133.6 377.8 135 376.2 136.5 379.2 137.9 378.9 139.4 376.7 140.8 379.2 142.3 379.3 143.7 374.8 145.2 377 146.6 377.4 148.1 378.4 149.5 378.8 151 376.9 152.4 380.6 153.9 376.7 155.3 383.4 156.8 382.2 158.2 385 159.7 383.1 161.1 381.5 162.6 379.8 164 384.8 165.5 383.7 166.9 384.8 168.4 386 169.8 387.3 171.3 384.8 172.7 389.1 174.2 385.3 175.6 385.8 177 387.6 178.5 388.7 179.9 389.8 181.4 383 182.8 390.2 184.3 384.3 185.7 386.6 187.2 388.9 188.6 390.9 190.1 386.4 191.5 385.2 193 391.2 194.4 390.1 195.9 387.5 197.3 389.2 198.8 386 200.2 391.6 201.7 389.5 203.1 393.4 204.6 386.6 206 392.6 207.5 395.9 208.9 391.7 210.4 391.9 211.8 387.8 213.3 392.6 214.7 392.1 216.2 391 217.6 389.1 219.1 392.7 220.5 390.6 222 391.8 223.4 393.6 224.9 393 226.3 393.3 227.8 395.4 229.2 391.1 230.7 396.6 232.1 391.5 233.6 392.1 235 394.4 236.5 395.9 237.9 394.9 239.4 393.6 240.8 393.2 242.3 394.3 243.7 393 245.2 396.3 246.6 394.8 248.1 398.6 249.5 394 251 395.3 252.4 396.6 253.9 393.5 255.3 394.6 256.8 401.8 258.2 396.2 259.7 399.3 261.1 394.4 262.6 391.5 264 397.6 265.5 396.5 266.9 397.2 268.4 396 269.8 395.5 271.3 394.2 272.7 398.8 274.2 393.8 275.6 398.8 277.1 396.4 278.5 394.7 279.9 395.6 281.4 399 282.8 398.5 284.3 398.1 285.7 397.3 287.2 395 288.6 399.9 290.1 396.4 291.5 396.2 293 396.3 294.4 396.6 295.9 394.5 297.3 396.6 298.8 395.9 300.2 396.5 301.7 394.2 303.1 401.5 304.6 395.3 306 398.3 307.5 398.4 308.9 399.8 310.4 401.6 311.8 398.7 313.3 399.4 314.7 397.1 316.2 401 317.6 395.4 319.1 397.7 320.5 398.7 322 399.7 323.4 399.8 324.9 400.5 326.3 399.5 327.8 398.4 329.2 398.8 330.7 401.2 332.1 399.1 333.6 400.3 335 398.3 336.5 395.1 337.9 397.5 339.4 399.3 340.8 401.9 342.3 401.5 343.7 402.1 345.2 397.5 346.6 400.4 348.1 398.8 349.5 400.2 351 398.9 352.4 396.4 353.9 400.4 355.3 399.8 356.8 400.7 358.2 397.6 359.7 401.2 361.1 401.4 362.6 401.9 364 402 365.5 398.5 366.9 394.6 368.4 401.3 369.8 397.7 371.3 399.1 372.7 401.6 374.2 400.1 375.6 400.1 377.1 401 378.5 396 380 403.3 381.4 399 382.9 399.2 384.3 400.9 385.7 399.6 387.2 398.2 388.6 399.6 390.1 399.2 391.5 398.7 393 403.9 394.4 397.2 395.9 395.8 397.3 398.2 398.8 398.2 400.2 402.8 401.7 400.4 403.1 401.8 404.6 401.4 406 398.5 407.5 401.8 408.9 400.6 410.4 404 411.8 400.7 413.3 400.3 414.7 401.8 416.2 401.9 417.6 397 419.1 402.9 420.5 402.7 422 402.2 423.4 398.5 424.9 396.8 426.3 400.2 427.8 402.2 429.2 401.7 430.7 398.9 432.1 402.7 433.6 398.3 435 398.4 436.5 401 437.9 399.9 439.4 399.8 440.8 398.3 442.3 403.2 443.7 399 445.2 402 446.6 402.8 448.1 401.2 449.5 401.8 451 403.3 452.4 404.5 453.9 403.3 455.3 398.8 456.8 397.9 458.2 400.4 459.7 399.4 461.1 402.7 462.6 401.9 464 401.3 465.5 403.9 466.9 403.7 468.4 401.7 469.8 402.5 471.3 404 472.7 401.3 474.2 402.5 475.6 400.1 477.1 402.1 478.5 402.7 480 401.9 481.4 402.5 482.9 403.5 484.3 403 485.8 400.9 487.2 401.1 488.6 399.9 490.1 405.6 491.5 403.2 493 403.3 494.4 402.2 495.9 403.4 497.3 403.5 498.8 401.1 500.2 402.3 501.7 404.9 503.1 400.2 504.6 400.8 506 403.8 507.5 401.2 508.9 404.2 510.4 400.7 511.8 403.2 513.3 404.3 514.7 403.5 516.2 404.3 517.6 402.4 519.1 402.5 520.5 402.7 522 403.9 523.4 409.7 524.9 402.6 526.3 406.4 527.8 402.4 529.2 400.7 530.7 402.3 532.1 403.6 533.6 403.2 535 403.1 536.5 403.9 537.9 403.9 539.4 404.6 540.8 400.6 542.3 402.9 543.7 401 545.2 403.3 546.6 402.7 548.1 403.2 549.5 402 551 401.3 552.4 402.4 553.9 404.1 555.3 404.3 556.8 399.7 558.2 403.4 559.7 403.4 561.1 400.1 562.6 400.8 564 401.9 565.5 403.6 566.9 398.4 568.4 402.1 569.8 401.8 571.3 403.2 572.7 405.6 574.2 405.4 575.6 402.1 577.1 402.1 578.5 403.3 580 405.1 581.4 405.6 582.9 403.5 584.3 405.7 585.8 401.2 587.2 400.7 588.7 397.6 590.1 401.2 591.5 404 593 404.6 594.4 409.4 595.9 404 597.3 403.3 598.8 401.1 600.2 401.8 601.7 401.8 603.1 402.5 604.6 401.7 606 400.2 607.5 404.9 608.9 403.8 610.4 405.6 611.8 399.9 613.3 400.5 614.7 401.5 616.2 405.2 617.6 402.6 619.1 403.4 620.5 402.8 622 403.3 623.4 402 624.9 403.7 626.3 401.3 627.8 402.5 629.2 403.5 630.7 403.2 632.1 403.8 633.6 401.4 635 403.5 636.5 402.4 637.9 403.7 639.4 405.8 640.8 401.3 642.3 405 643.7 401.7 645.2 402.2 646.6 406.1 648.1 404.8 649.5 404 651 404.5" stroke="#8c564b" stroke-opacity="0.6" stroke-width="1.1" fill="none" stroke-linejoin="round"/>
<path d="M72.7 183.3h0M74.1 214.1h0M75.6 256.9h0M77 288.5h0M78.5 296.4h0M79.9 308.9h0M81.4 316.8h0M82.8 325.8h0M84.3 329.9h0M85.7 331.4h0M87.2 341.2h0M88.6 341.5h0M90.1 343.3h0M91.5 348.6h0M93 349.6h0M94.4 355.1h0M95.9 351.5h0M97.3 354.1h0M98.8 358.1h0M100.2 364.7h0M101.7 364h0M103.1 360.2h0M104.6 359.4h0M106 363.6h0M107.5 362.2h0M108.9 367.4h0M110.4 367.2h0M111.8 367.5h0M113.3 367.2h0M114.7 372.5h0M116.2 367.4h0M117.6 367.2h0M119.1 373.6h0M120.5 374.7h0M122 371.3h0M123.4 374.3h0M124.9 378.7h0M126.3 371.9h0M127.8 373.9h0M129.2 375.9h0M130.7 370.4h0M132.1 375.4h0M133.6 377.8h0M135 376.2h0M136.5 379.2h0M137.9 378.9h0M139.4 376.7h0M140.8 379.2h0M142.3 379.3h0M143.7 374.8h0M145.2 377h0M146.6 377.4h0M148.1 378.4h0M149.5 378.8h0M151 376.9h0M152.4 380.6h0M153.9 376.7h0M155.3 383.4h0M156.8 382.2h0M158.2 385h0M159.7 383.1h0M161.1 381.5h0M162.6 379.8h0M164 384.8h0M165.5 383.7h0M166.9 384.8h0M168.4 386h0M169.8 387.3h0M171.3 384.8h0M172.7 389.1h0M174.2 385.3h0M175.6 385.8h0M177 387.6h0M178.5 388.7h0M179.9 389.8h0M181.4 383h0M182.8 390.2h0M184.3 384.3h0M185.7 386.6h0M187.2 388.9h0M188.6 390.9h0M190.1 386.4h0M191.5 385.2h0M193 391.2h0M194.4 390.1h0M195.9 387.5h0M197.3 389.2h0M198.8 386h0M200.2 391.6h0M201.7 389.5h0M203.1 393.4h0M204.6 386.6h0M206 392.6h0M207.5 395.9h0M208.9 391.7h0M210.4 391.9h0M211.8 387.8h0M213.3 392.6h0M214.7 392.1h0M216.2 391h0M217.6 389.1h0M219.1 392.7h0M220.5 390.6h0M222 391.8h0M223.4 393.6h0M224.9 393h0M226.3 393.3h0M227.8 395.4h0M229.2 391.1h0M230.7 396.6h0M232.1 391.5h0M233.6 392.1h0M235 394.4h0M236.5 395.9h0M237.9 394.9h0M239.4 393.6h0M240.8 393.2h0M242.3 394.3h0M243.7 393h0M245.2 396.3h0M246.6 394.8h0M248.1 398.6h0M249.5 394h0M251 395.3h0M252.4 396.6h0M253.9 393.5h0M255.3 394.6h0M256.8 401.8h0M258.2 396.2h0M259.7 399.3h0M261.1 394.4h0M262.6 391.5h0M264 397.6h0M265.5 396.5h0M266.9 397.2h0M268.4 396h0M269.8 395.5h0M271.3 394.2h0M272.7 398.8h0M274.2 393.8h0M275.6 398.8h0M277.1 396.4h0M278.5 394.7h0M279.9 395.6h0M281.4 399h0M282.8 398.5h0M284.3 398.1h0M285.7 397.3h0M287.2 395h0M288.6 399.9h0M290.1 396.4h0M291.5 396.2h0M293 396.3h0M294.4 396.6h0M295.9 394.5h0M297.3 396.6h0M298.8 395.9h0M300.2 396.5h0M301.7 394.2h0M303.1 401.5h0M304.6 395.3h0M306 398.3h0M307.5 398.4h0M308.9 399.8h0M310.4 401.6h0M311.8 398.7h0M313.3 399.4h0M314.7 397.1h0M316.2 401h0M317.6 395.4h0M319.1 397.7h0M320.5 398.7h0M322 399.7h0M323.4 399.8h0M324.9 400.5h0M326.3 399.5h0M327.8 398.4h0M329.2 398.8h0M330.7 401.2h0M332.1 399.1h0M333.6 400.3h0M335 398.3h0M336.5 395.1h0M337.9 397.5h0M339.4 399.3h0M340.8 401.9h0M342.3 401.5h0M343.7 402.1h0M345.2 397.5h0M346.6 400.4h0M348.1 398.8h0M349.5 400.2h0M351 398.9h0M352.4 396.4h0M353.9 400.4h0M355.3 399.8h0M356.8 400.7h0M358.2 397.6h0M359.7 401.2h0M361.1 401.4h0M362.6 401.9h0M364 402h0M365.5 398.5h0M366.9 394.6h0M368.4 401.3h0M369.8 397.7h0M371.3 399.1h0M372.7 401.6h0M374.2 400.1h0M375.6 400.1h0M377.1 401h0M378.5 396h0M380 403.3h0M381.4 399h0M382.9 399.2h0M384.3 400.9h0M385.7 399.6h0M387.2 398.2h0M388.6 399.6h0M390.1 399.2h0M391.5 398.7h0M393 403.9h0M394.4 397.2h0M395.9 395.8h0M397.3 398.2h0M398.8 398.2h0M400.2 402.8h0M401.7 400.4h0M403.1 401.8h0M404.6 401.4h0M406 398.5h0M407.5 401.8h0M408.9 400.6h0M410.4 404h0M411.8 400.7h0M413.3 400.3h0M414.7 401.8h0M416.2 401.9h0M417.6 397h0M419.1 402.9h0M420.5 402.7h0M422 402.2h0M423.4 398.5h0M424.9 396.8h0M426.3 400.2h0M427.8 402.2h0M429.2 401.7h0M430.7 398.9h0M432.1 402.7h0M433.6 398.3h0M435 398.4h0M436.5 401h0M437.9 399.9h0M439.4 399.8h0M440.8 398.3h0M442.3 403.2h0M443.7 399h0M445.2 402h0M446.6 402.8h0M448.1 401.2h0M449.5 401.8h0M451 403.3h0M452.4 404.5h0M453.9 403.3h0M455.3 398.8h0M456.8 397.9h0M458.2 400.4h0M459.7 399.4h0M461.1 402.7h0M462.6 401.9h0M464 401.3h0M465.5 403.9h0M466.9 403.7h0M468.4 401.7h0M469.8 402.5h0M471.3 404h0M472.7 401.3h0M474.2 402.5h0M475.6 400.1h0M477.1 402.1h0M478.5 402.7h0M480 401.9h0M481.4 402.5h0M482.9 403.5h0M484.3 403h0M485.8 400.9h0M487.2 401.1h0M488.6 399.9h0M490.1 405.6h0M491.5 403.2h0M493 403.3h0M494.4 402.2h0M495.9 403.4h0M497.3 403.5h0M498.8 401.1h0M500.2 402.3h0M501.7 404.9h0M503.1 400.2h0M504.6 400.8h0M506 403.8h0M507.5 401.2h0M508.9 404.2h0M510.4 400.7h0M511.8 403.2h0M513.3 404.3h0M514.7 403.5h0M516.2 404.3h0M517.6 402.4h0M519.1 402.5h0M520.5 402.7h0M522 403.9h0M523.4 409.7h0M524.9 402.6h0M526.3 406.4h0M527.8 402.4h0M529.2 400.7h0M530.7 402.3h0M532.1 403.6h0M533.6 403.2h0M535 403.1h0M536.5 403.9h0M537.9 403.9h0M539.4 404.6h0M540.8 400.6h0M542.3 402.9h0M543.7 401h0M545.2 403.3h0M546.6 402.7h0M548.1 403.2h0M549.5 402h0M551 401.3h0M552.4 402.4h0M553.9 404.1h0M555.3 404.3h0M556.8 399.7h0M558.2 403.4h0M559.7 403.4h0M561.1 400.1h0M562.6 400.8h0M564 401.9h0M565.5 403.6h0M566.9 398.4h0M568.4 402.1h0M569.8 401.8h0M571.3 403.2h0M572.7 405.6h0M574.2 405.4h0M575.6 402.1h0M577.1 402.1h0M578.5 403.3h0M580 405.1h0M581.4 405.6h0M582.9 403.5h0M584.3 405.7h0M585.8 401.2h0M587.2 400.7h0M588.7 397.6h0M590.1 401.2h0M591.5 404h0M593 404.6h0M594.4 409.4h0M595.9 404h0M597.3 403.3h0M598.8 401.1h0M600.2 401.8h0M601.7 401.8h0M603.1 402.5h0M604.6 401.7h0M606 400.2h0M607.5 404.9h0M608.9 403.8h0M610.4 405.6h0M611.8 399.9h0M613.3 400.5h0M614.7 401.5h0M616.2 405.2h0M617.6 402.6h0M619.1 403.4h0M620.5 402.8h0M622 403.3h0M623.4 402h0M624.9 403.7h0M626.3 401.3h0M627.8 402.5h0M629.2 403.5h0M630.7 403.2h0M632.1 403.8h0M633.6 401.4h0M635 403.5h0M636.5 402.4h0M637.9 403.7h0M639.4 405.8h0M640.8 401.3h0M642.3 405h0M643.7 401.7h0M645.2 402.2h0M646.6 406.1h0M648.1 404.8h0M649.5 404h0M651 404.5h0" stroke="#8c564b" stroke-width="6.4" stroke-linecap="round" fill="none"/>
<path d="M72.7 174.7 74.1 193 75.6 241.7 77 273.2 78.5 289.9 79.9 298.5 81.4 312.3 82.8 317.6 84.3 320.6 85.7 328.3 87.2 335.7 88.6 343.2 90.1 340.7 91.5 342.6 93 348.3 94.4 353.4 95.9 349 97.3 341.2 98.8 357.5 100.2 356.2 101.7 357 103.1 373 104.6 360.2 106 365.3 107.5 355.5 108.9 364.7 110.4 368.1 111.8 366 113.3 364.8 114.7 369.2 116.2 367.3 117.6 374.6 119.1 369.5 120.5 365 122 359.6 123.4 366.6 124.9 369.4 126.3 365.3 127.8 366.7 129.2 363.9 130.7 367.4 132.1 373.9 133.6 372.4 135 373.3 136.5 373.1 137.9 374 139.4 379.3 140.8 386.3 142.3 379.5 143.7 386.7 145.2 376.5 146.6 377.2 148.1 386 149.5 374.4 151 373.9 152.4 378.1 153.9 370.6 155.3 370 156.8 385.8 158.2 374.9 159.7 378.3 161.1 378.8 162.6 376.6 164 385.2 165.5 384.9 166.9 386.4 168.4 386.3 169.8 383.4 171.3 390.4 172.7 388.7 174.2 381.1 175.6 384.6 177 382.7 178.5 394.1 179.9 389 181.4 388.2 182.8 385.6 184.3 388.9 185.7 381.8 187.2 386.9 188.6 386.8 190.1 387.1 191.5 384.1 193 390 194.4 382.6 195.9 386.1 197.3 387.8 198.8 388.6 200.2 386.6 201.7 384.4 203.1 385 204.6 387.9 206 385.7 207.5 389.4 208.9 384.3 210.4 390.5 211.8 400.3 213.3 384.5 214.7 390.4 216.2 396.5 217.6 392.2 219.1 395.5 220.5 381.8 222 389.4 223.4 399.2 224.9 389.5 226.3 394.1 227.8 383.5 229.2 397.5 230.7 403.2 232.1 392.6 233.6 394.7 235 395.1 236.5 403.3 237.9 391.5 239.4 385.9 240.8 402.7 242.3 388.5 243.7 396.7 245.2 383.3 246.6 392.4 248.1 395.4 249.5 389.5 251 392.4 252.4 397.7 253.9 391.8 255.3 397.6 256.8 403.7 258.2 386.1 259.7 397.3 261.1 398.6 262.6 394.2 264 403.1 265.5 402.2 266.9 398.3 268.4 398.5 269.8 395.8 271.3 390.9 272.7 398.4 274.2 394 275.6 393.5 277.1 401.4 278.5 395.4 279.9 400.8 281.4 391.6 282.8 394.5 284.3 396.5 285.7 402.9 287.2 396.2 288.6 400.3 290.1 393.5 291.5 397.4 293 400.7 294.4 392.7 295.9 393.7 297.3 399.8 298.8 391.7 300.2 398.5 301.7 398.6 303.1 396.7 304.6 400.8 306 399.4 307.5 398.1 308.9 390.3 310.4 390.5 311.8 398.7 313.3 390.1 314.7 397.8 316.2 395.9 317.6 393.6 319.1 396.4 320.5 386.6 322 396.7 323.4 403.4 324.9 391.9 326.3 399.9 327.8 399.4 329.2 411.9 330.7 393.4 332.1 394.3 333.6 394.5 335 393.7 336.5 390.4 337.9 398.5 339.4 394 340.8 401.8 342.3 400.1 343.7 393.5 345.2 396.7 346.6 404.7 348.1 396.9 349.5 399.5 351 402.5 352.4 396.7 353.9 400.6 355.3 406.1 356.8 404 358.2 390.6 359.7 405.9 361.1 397.9 362.6 396.1 364 396 365.5 404.7 366.9 400.6 368.4 398.5 369.8 395.4 371.3 402.2 372.7 404.6 374.2 394.6 375.6 394.2 377.1 397.6 378.5 402.2 380 397.5 381.4 398.9 382.9 395.6 384.3 405.3 385.7 399 387.2 400.3 388.6 404.7 390.1 398.6 391.5 399.5 393 401.6 394.4 397.9 395.9 406.3 397.3 400 398.8 397.8 400.2 398.6 401.7 394.9 403.1 405.5 404.6 406.9 406 398.9 407.5 397.9 408.9 390.3 410.4 397.3 411.8 404.2 413.3 396.5 414.7 404.1 416.2 407.1 417.6 388.3 419.1 398.9 420.5 397.1 422 397.8 423.4 392.1 424.9 399.2 426.3 395 427.8 405.3 429.2 407.1 430.7 394.1 432.1 393.9 433.6 398.4 435 399.8 436.5 400.1 437.9 404.1 439.4 393.9 440.8 397.9 442.3 398.7 443.7 399.3 445.2 396.3 446.6 398.8 448.1 397.7 449.5 406.6 451 398.9 452.4 391.2 453.9 403.7 455.3 401.9 456.8 397.3 458.2 397 459.7 398.6 461.1 408.9 462.6 399.2 464 407 465.5 405.4 466.9 399.1 468.4 403 469.8 398 471.3 387.4 472.7 398.2 474.2 398.5 475.6 406 477.1 404.9 478.5 406.8 480 404.4 481.4 407 482.9 405.1 484.3 403 485.8 406.7 487.2 408.6 488.6 408.4 490.1 400.2 491.5 402 493 397.6 494.4 397.6 495.9 403.9 497.3 399.3 498.8 409 500.2 392.1 501.7 397.1 503.1 403.5 504.6 407.9 506 400.9 507.5 411.2 508.9 406.2 510.4 399.2 511.8 402.3 513.3 404.9 514.7 398.3 516.2 407.4 517.6 401.4 519.1 404.9 520.5 406.5 522 400.6 523.4 407.2 524.9 394 526.3 405.3 527.8 393.7 529.2 407.7 530.7 399.9 532.1 408.2 533.6 408.8 535 402 536.5 399.6 537.9 408.5 539.4 397.4 540.8 406.3 542.3 402.1 543.7 401 545.2 400 546.6 410.9 548.1 395.4 549.5 400.2 551 404.7 552.4 407.4 553.9 410.4 555.3 408.9 556.8 400.3 558.2 404.3 559.7 407.9 561.1 405.2 562.6 395.7 564 404.3 565.5 405.4 566.9 396.7 568.4 400.7 569.8 402.6 571.3 405.6 572.7 409.8 574.2 408.1 575.6 405 577.1 403.8 578.5 401.2 580 400.3 581.4 401.8 582.9 401.8 584.3 407.4 585.8 412.6 587.2 405.2 588.7 407.1 590.1 405.8 591.5 404.1 593 408.5 594.4 407.9 595.9 403.3 597.3 402.3 598.8 405.8 600.2 400.6 601.7 403.9 603.1 407.5 604.6 402.7 606 394.4 607.5 405.9 608.9 397.6 610.4 396.7 611.8 396.2 613.3 406.6 614.7 393.8 616.2 402.4 617.6 404.1 619.1 404 620.5 400.2 622 402.7 623.4 403.7 624.9 397.2 626.3 406.2 627.8 407.6 629.2 399.4 630.7 399.8 632.1 398 633.6 407.8 635 398.1 636.5 400.8 637.9 395.1 639.4 408.6 640.8 402 642.3 404.2 643.7 410.1 645.2 406.2 646.6 397.9 648.1 405.1 649.5 406.2 651 399.1" stroke="#e377c2" stroke-opacity="0.6" stroke-width="1.1" fill="none" stroke-linejoin="round"/>
<path d="M72.7 174.7h0M74.1 193h0M75.6 241.7h0M77 273.2h0M78.5 289.9h0M79.9 298.5h0M81.4 312.3h0M82.8 317.6h0M84.3 320.6h0M85.7 328.3h0M87.2 335.7h0M88.6 343.2h0M90.1 340.7h0M91.5 342.6h0M93 348.3h0M94.4 353.4h0M95.9 349h0M97.3 341.2h0M98.8 357.5h0M100.2 356.2h0M101.7 357h0M103.1 373h0M104.6 360.2h0M106 365.3h0M107.5 355.5h0M108.9 364.7h0M110.4 368.1h0M111.8 366h0M113.3 364.8h0M114.7 369.2h0M116.2 367.3h0M117.6 374.6h0M119.1 369.5h0M120.5 365h0M122 359.6h0M123.4 366.6h0M124.9 369.4h0M126.3 365.3h0M127.8 366.7h0M129.2 363.9h0M130.7 367.4h0M132.1 373.9h0M133.6 372.4h0M135 373.3h0M136.5 373.1h0M137.9 374h0M139.4 379.3h0M140.8 386.3h0M142.3 379.5h0M143.7 386.7h0M145.2 376.5h0M146.6 377.2h0M148.1 386h0M149.5 374.4h0M151 373.9h0M152.4 378.1h0M153.9 370.6h0M155.3 370h0M156.8 385.8h0M158.2 374.9h0M159.7 378.3h0M161.1 378.8h0M162.6 376.6h0M164 385.2h0M165.5 384.9h0M166.9 386.4h0M168.4 386.3h0M169.8 383.4h0M171.3 390.4h0M172.7 388.7h0M174.2 381.1h0M175.6 384.6h0M177 382.7h0M178.5 394.1h0M179.9 389h0M181.4 388.2h0M182.8 385.6h0M184.3 388.9h0M185.7 381.8h0M187.2 386.9h0M188.6 386.8h0M190.1 387.1h0M191.5 384.1h0M193 390h0M194.4 382.6h0M195.9 386.1h0M197.3 387.8h0M198.8 388.6h0M200.2 386.6h0M201.7 384.4h0M203.1 385h0M204.6 387.9h0M206 385.7h0M207.5 389.4h0M208.9 384.3h0M210.4 390.5h0M211.8 400.3h0M213.3 384.5h0M214.7 390.4h0M216.2 396.5h0M217.6 392.2h0M219.1 395.5h0M220.5 381.8h0M222 389.4h0M223.4 399.2h0M224.9 389.5h0M226.3 394.1h0M227.8 383.5h0M229.2 397.5h0M230.7 403.2h0M232.1 392.6h0M233.6 394.7h0M235 395.1h0M236.5 403.3h0M237.9 391.5h0M239.4 385.9h0M240.8 402.7h0M242.3 388.5h0M243.7 396.7h0M245.2 383.3h0M246.6 392.4h0M248.1 395.4h0M249.5 389.5h0M251 392.4h0M252.4 397.7h0M253.9 391.8h0M255.3 397.6h0M256.8 403.7h0M258.2 386.1h0M259.7 397.3h0M261.1 398.6h0M262.6 394.2h0M264 403.1h0M265.5 402.2h0M266.9 398.3h0M268.4 398.5h0M269.8 395.8h0M271.3 390.9h0M272.7 398.4h0M274.2 394h0M275.6 393.5h0M277.1 401.4h0M278.5 395.4h0M279.9 400.8h0M281.4 391.6h0M282.8 394.5h0M284.3 396.5h0M285.7 402.9h0M287.2 396.2h0M288.6 400.3h0M290.1 393.5h0M291.5 397.4h0M293 400.7h0M294.4 392.7h0M295.9 393.7h0M297.3 399.8h0M298.8 391.7h0M300.2 398.5h0M301.7 398.6h0M303.1 396.7h0M304.6 400.8h0M306 399.4h0M307.5 398.1h0M308.9 390.3h0M310.4 390.5h0M311.8 398.7h0M313.3 390.1h0M314.7 397.8h0M316.2 395.9h0M317.6 393.6h0M319.1 396.4h0M320.5 386.6h0M322 396.7h0M323.4 403.4h0M324.9 391.9h0M326.3 399.9h0M327.8 399.4h0M329.2 411.9h0M330.7 393.4h0M332.1 394.3h0M333.6 394.5h0M335 393.7h0M336.5 390.4h0M337.9 398.5h0M339.4 394h0M340.8 401.8h0M342.3 400.1h0M343.7 393.5h0M345.2 396.7h0M346.6 404.7h0M348.1 396.9h0M349.5 399.5h0M351 402.5h0M352.4 396.7h0M353.9 400.6h0M355.3 406.1h0M356.8 404h0M358.2 390.6h0M359.7 405.9h0M361.1 397.9h0M362.6 396.1h0M364 396h0M365.5 404.7h0M366.9 400.6h0M368.4 398.5h0M369.8 395.4h0M371.3 402.2h0M372.7 404.6h0M374.2 394.6h0M375.6 394.2h0M377.1 397.6h0M378.5 402.2h0M380 397.5h0M381.4 398.9h0M382.9 395.6h0M384.3 405.3h0M385.7 399h0M387.2 400.3h0M388.6 404.7h0M390.1 398.6h0M391.5 399.5h0M393 401.6h0M394.4 397.9h0M395.9 406.3h0M397.3 400h0M398.8 397.8h0M400.2 398.6h0M401.7 394.9h0M403.1 405.5h0M404.6 406.9h0M406 398.9h0M407.5 397.9h0M408.9 390.3h0M410.4 397.3h0M411.8 404.2h0M413.3 396.5h0M414.7 404.1h0M416.2 407.1h0M417.6 388.3h0M419.1 398.9h0M420.5 397.1h0M422 397.8h0M423.4 392.1h0M424.9 399.2h0M426.3 395h0M427.8 405.3h0M429.2 407.1h0M430.7 394.1h0M432.1 393.9h0M433.6 398.4h0M435 399.8h0M436.5 400.1h0M437.9 404.1h0M439.4 393.9h0M440.8 397.9h0M442.3 398.7h0M443.7 399.3h0M445.2 396.3h0M446.6 398.8h0M448.1 397.7h0M449.5 406.6h0M451 398.9h0M452.4 391.2h0M453.9 403.7h0M455.3 401.9h0M456.8 397.3h0M458.2 397h0M459.7 398.6h0M461.1 408.9h0M462.6 399.2h0M464 407h0M465.5 405.4h0M466.9 399.1h0M468.4 403h0M469.8 398h0M471.3 387.4h0M472.7 398.2h0M474.2 398.5h0M475.6 406h0M477.1 404.9h0M478.5 406.8h0M480 404.4h0M481.4 407h0M482.9 405.1h0M484.3 403h0M485.8 406.7h0M487.2 408.6h0M488.6 408.4h0M490.1 400.2h0M491.5 402h0M493 397.6h0M494.4 397.6h0M495.9 403.9h0M497.3 399.3h0M498.8 409h0M500.2 392.1h0M501.7 397.1h0M503.1 403.5h0M504.6 407.9h0M506 400.9h0M507.5 411.2h0M508.9 406.2h0M510.4 399.2h0M511.8 402.3h0M513.3 404.9h0M514.7 398.3h0M516.2 407.4h0M517.6 401.4h0M519.1 404.9h0M520.5 406.5h0M522 400.6h0M523.4 407.2h0M524.9 394h0M526.3 405.3h0M527.8 393.7h0M529.2 407.7h0M530.7 399.9h0M532.1 408.2h0M533.6 408.8h0M535 402h0M536.5 399.6h0M537.9 408.5h0M539.4 397.4h0M540.8 406.3h0M542.3 402.1h0M543.7 401h0M545.2 400h0M546.6 410.9h0M548.1 395.4h0M549.5 400.2h0M551 404.7h0M552.4 407.4h0M553.9 410.4h0M555.3 408.9h0M556.8 400.3h0M558.2 404.3h0M559.7 407.9h0M561.1 405.2h0M562.6 395.7h0M564 404.3h0M565.5 405.4h0M566.9 396.7h0M568.4 400.7h0M569.8 402.6h0M571.3 405.6h0M572.7 409.8h0M574.2 408.1h0M575.6 405h0M577.1 403.8h0M578.5 401.2h0M580 400.3h0M581.4 401.8h0M582.9 401.8h0M584.3 407.4h0M585.8 412.6h0M587.2 405.2h0M588.7 407.1h0M590.1 405.8h0M591.5 404.1h0M593 408.5h0M594.4 407.9h0M595.9 403.3h0M597.3 402.3h0M598.8 405.8h0M600.2 400.6h0M601.7 403.9h0M603.1 407.5h0M604.6 402.7h0M606 394.4h0M607.5 405.9h0M608.9 397.6h0M610.4 396.7h0M611.8 396.2h0M613.3 406.6h0M614.7 393.8h0M616.2 402.4h0M617.6 404.1h0M619.1 404h0M620.5 400.2h0M622 402.7h0M623.4 403.7h0M624.9 397.2h0M626.3 406.2h0M627.8 407.6h0M629.2 399.4h0M630.7 399.8h0M632.1 398h0M633.6 407.8h0M635 398.1h0M636.5 400.8h0M637.9 395.1h0M639.4 408.6h0M640.8 402h0M642.3 404.2h0M643.7 410.1h0M645.2 406.2h0M646.6 397.9h0M648.1 405.1h0M649.5 406.2h0M651 399.1h0" stroke="#e377c2" stroke-width="6.4" stroke-linecap="round" fill="none"/>
</g>
<path d="M72.7 446v3.5M145.2 446v3.5M217.6 446v3.5M290.1 446v3.5M362.6 446v3.5M435 446v3.5M507.5 446v3.5M580 446v3.5M652.4 446v3.5M44 403.5h-3.5M44 317.5h-3.5M44 231.5h-3.5M44 145.5h-3.5M44 59.5h-3.5" stroke="#404040" stroke-width="1" fill="none"/>
<rect x="44" y="25" width="636" height="421" fill="none" stroke="#404040" stroke-width="1.2"/>
<text x="71.9" y="460.6" font-size="11" text-anchor="middle" letter-spacing="-1.1">0</text>
<text x="144.4" y="460.6" font-size="11" text-anchor="middle" letter-spacing="-1.1">50</text>
<text x="216.8" y="460.6" font-size="11" text-anchor="middle" letter-spacing="-1.1">100</text>
<text x="289.3" y="460.6" font-size="11" text-anchor="middle" letter-spacing="-1.1">150</text>
<text x="361.8" y="460.6" font-size="11" text-anchor="middle" letter-spacing="-1.1">200</text>
<text x="434.2" y="460.6" font-size="11" text-anchor="middle" letter-spacing="-1.1">250</text>
<text x="506.7" y="460.6" font-size="11" text-anchor="middle" letter-spacing="-1.1">300</text>
<text x="579.2" y="460.6" font-size="11" text-anchor="middle" letter-spacing="-1.1">350</text>
<text x="651.6" y="460.6" font-size="11" text-anchor="middle" letter-spacing="-1.1">400</text>
<text x="36.2" y="407.1" font-size="11.2" text-anchor="end" letter-spacing="-1.1">0.05</text>
<text x="36.2" y="321.1" font-size="11.2" text-anchor="end" letter-spacing="-1.1">0.10</text>
<text x="36.2" y="235.1" font-size="11.2" text-anchor="end" letter-spacing="-1.1">0.15</text>
<text x="36.2" y="149.1" font-size="11.2" text-anchor="end" letter-spacing="-1.1">0.20</text>
<text x="36.2" y="63.1" font-size="11.2" text-anchor="end" letter-spacing="-1.1">0.25</text>
<text x="362" y="476.2" font-size="14.4" text-anchor="middle">Epochs(s)</text>
<text transform="translate(13.4 236.2) rotate(-90)" font-size="14" text-anchor="middle">Loss</text>
<text x="361.8" y="19.3" font-size="19.1" text-anchor="middle">Loss over Training Epochs</text>
<rect x="138.8" y="118.5" width="435.4" height="188" fill="#fff"/>
<path d="M140.5 119V294.4M224.5 119V294.4M308.5 119V294.4M392.5 119V294.4M476.5 119V294.4M560.5 119V294.4M139 144.2H572M139 177.9H572M139 211.6H572M139 245.3H572M139 279.2H572" stroke="#d8d8d8" stroke-width="0.8" fill="none"/>
<g clip-path="url(#ic)">
<path d="M140.5 124 144.7 122.2 148.9 122.2 153.1 126.3 157.3 124.3 161.5 132.5 165.7 121.1 169.9 125.3 174.1 132.5 178.3 127.4 182.5 128.4 186.7 130.5 190.9 121.1 195.1 130.5 199.3 126.3 203.5 131.5 207.7 131.5 211.9 132 216.1 133.4 220.3 133.6 224.5 133.6 228.7 130.5 232.9 132.5 237.1 128.4 241.3 129.8 245.5 131 249.7 131.5 253.9 137.7 258.1 136.7 262.3 136 266.5 136 270.7 136.7 274.9 135.7 279.1 133.6 283.3 129.2 287.5 134.6 291.7 133.2 295.9 136.7 300.1 139.4 304.3 137.7 308.5 135.2 312.7 136 316.9 133.6 321.1 134 325.3 137.3 329.5 142.9 333.7 137.3 337.9 137.7 342.1 141.5 346.3 142.9 350.5 136.7 354.7 138.8 358.9 137.7 363.1 138.5 367.3 140.8 371.5 141 375.7 139.8 379.9 141 384.1 146 388.3 142 392.5 138.8 396.7 143 400.9 141 405.1 136.7 409.3 141 413.5 149.7 417.7 144 421.9 140.2 426.1 143 430.3 145 434.5 146 438.7 145 442.9 146 447.1 145 451.3 144 455.5 147 459.7 142.3 463.9 147 468.1 148 472.3 145 476.5 148 480.7 146 484.9 144.4 489.1 148 493.3 144 497.5 147 501.7 150.5 505.9 142.3 510.1 147 514.3 147 518.5 148.5 522.7 150 526.9 151.8 531.1 152.6 535.3 149.1 539.5 150 543.7 147 547.9 144 552.1 152.2 556.3 152.2" stroke="#1f77b4" stroke-opacity="0.75" stroke-width="1.05" fill="none" stroke-linejoin="round"/>
<path d="M140.5 124h0M144.7 122.2h0M148.9 122.2h0M153.1 126.3h0M157.3 124.3h0M161.5 132.5h0M165.7 121.1h0M169.9 125.3h0M174.1 132.5h0M178.3 127.4h0M182.5 128.4h0M186.7 130.5h0M190.9 121.1h0M195.1 130.5h0M199.3 126.3h0M203.5 131.5h0M207.7 131.5h0M211.9 132h0M216.1 133.4h0M220.3 133.6h0M224.5 133.6h0M228.7 130.5h0M232.9 132.5h0M237.1 128.4h0M241.3 129.8h0M245.5 131h0M249.7 131.5h0M253.9 137.7h0M258.1 136.7h0M262.3 136h0M266.5 136h0M270.7 136.7h0M274.9 135.7h0M279.1 133.6h0M283.3 129.2h0M287.5 134.6h0M291.7 133.2h0M295.9 136.7h0M300.1 139.4h0M304.3 137.7h0M308.5 135.2h0M312.7 136h0M316.9 133.6h0M321.1 134h0M325.3 137.3h0M329.5 142.9h0M333.7 137.3h0M337.9 137.7h0M342.1 141.5h0M346.3 142.9h0M350.5 136.7h0M354.7 138.8h0M358.9 137.7h0M363.1 138.5h0M367.3 140.8h0M371.5 141h0M375.7 139.8h0M379.9 141h0M384.1 146h0M388.3 142h0M392.5 138.8h0M396.7 143h0M400.9 141h0M405.1 136.7h0M409.3 141h0M413.5 149.7h0M417.7 144h0M421.9 140.2h0M426.1 143h0M430.3 145h0M434.5 146h0M438.7 145h0M442.9 146h0M447.1 145h0M451.3 144h0M455.5 147h0M459.7 142.3h0M463.9 147h0M468.1 148h0M472.3 145h0M476.5 148h0M480.7 146h0M484.9 144.4h0M489.1 148h0M493.3 144h0M497.5 147h0M501.7 150.5h0M505.9 142.3h0M510.1 147h0M514.3 147h0M518.5 148.5h0M522.7 150h0M526.9 151.8h0M531.1 152.6h0M535.3 149.1h0M539.5 150h0M543.7 147h0M547.9 144h0M552.1 152.2h0M556.3 152.2h0" stroke="#1f77b4" stroke-width="4.5" stroke-linecap="round" fill="none"/>
<path d="M140.5 278.8 144.7 191.8 148.9 221.8 153.1 256.4 157.3 273 161.5 258.4 165.7 238.3 169.9 264.7 174.1 240.8 178.3 248.1 182.5 262.6 186.7 269.8 190.9 250.2 195.1 270.9 199.3 237.3 203.5 258 207.7 209.3 211.9 250.2 216.1 250.2 220.3 236.3 224.5 236.3 228.7 262.2 232.9 261.6 237.1 236.7 241.3 241.9 245.5 254.3 249.7 231.1 253.9 237.3 258.1 259.5 262.3 274.6 266.5 262.2 270.7 290.6 274.9 259.1 279.1 258 283.3 246.3 287.5 242.5 291.7 235.8 295.9 258 300.1 229.4 304.3 262.6 308.5 240.8 312.7 228.6 316.9 259.1 321.1 240.8 325.3 254.5 329.5 238.8 333.7 257 337.9 253.9 342.1 267.4 346.3 279.4 350.5 247.3 354.7 258.5 358.9 255.5 363.1 253.5 367.3 292.2 371.5 303 375.7 263.8 379.9 281.9 384.1 250.2 388.3 240 392.5 248.1 396.7 258 400.9 261.6 405.1 250.8 409.3 267.4 413.5 267 417.7 259.5 421.9 262.2 426.1 236.5 430.3 285.2 434.5 269.4 438.7 249.1 442.9 234.2 447.1 254.9 451.3 245.6 455.5 266.3 459.7 254.9 463.9 263.8 468.1 260.5 472.3 260.5 476.5 236.9 480.7 261.6 484.9 278.8 489.1 276.7 493.3 274.6 497.5 270.9 501.7 248.1 505.9 219.7 510.1 277.1 514.3 281.2 518.5 252.8 522.7 252.8 526.9 252.8 531.1 269.4 535.3 274.2 539.5 265.3 543.7 256.4 547.9 251.8 552.1 256.4 556.3 277.1" stroke="#ff7f0e" stroke-opacity="0.75" stroke-width="1.05" fill="none" stroke-linejoin="round"/>
<path d="M140.5 278.8h0M144.7 191.8h0M148.9 221.8h0M153.1 256.4h0M157.3 273h0M161.5 258.4h0M165.7 238.3h0M169.9 264.7h0M174.1 240.8h0M178.3 248.1h0M182.5 262.6h0M186.7 269.8h0M190.9 250.2h0M195.1 270.9h0M199.3 237.3h0M203.5 258h0M207.7 209.3h0M211.9 250.2h0M216.1 250.2h0M220.3 236.3h0M224.5 236.3h0M228.7 262.2h0M232.9 261.6h0M237.1 236.7h0M241.3 241.9h0M245.5 254.3h0M249.7 231.1h0M253.9 237.3h0M258.1 259.5h0M262.3 274.6h0M266.5 262.2h0M270.7 290.6h0M274.9 259.1h0M279.1 258h0M283.3 246.3h0M287.5 242.5h0M291.7 235.8h0M295.9 258h0M300.1 229.4h0M304.3 262.6h0M308.5 240.8h0M312.7 228.6h0M316.9 259.1h0M321.1 240.8h0M325.3 254.5h0M329.5 238.8h0M333.7 257h0M337.9 253.9h0M342.1 267.4h0M346.3 279.4h0M350.5 247.3h0M354.7 258.5h0M358.9 255.5h0M363.1 253.5h0M367.3 292.2h0M371.5 303h0M375.7 263.8h0M379.9 281.9h0M384.1 250.2h0M388.3 240h0M392.5 248.1h0M396.7 258h0M400.9 261.6h0M405.1 250.8h0M409.3 267.4h0M413.5 267h0M417.7 259.5h0M421.9 262.2h0M426.1 236.5h0M430.3 285.2h0M434.5 269.4h0M438.7 249.1h0M442.9 234.2h0M447.1 254.9h0M451.3 245.6h0M455.5 266.3h0M459.7 254.9h0M463.9 263.8h0M468.1 260.5h0M472.3 260.5h0M476.5 236.9h0M480.7 261.6h0M484.9 278.8h0M489.1 276.7h0M493.3 274.6h0M497.5 270.9h0M501.7 248.1h0M505.9 219.7h0M510.1 277.1h0M514.3 281.2h0M518.5 252.8h0M522.7 252.8h0M526.9 252.8h0M531.1 269.4h0M535.3 274.2h0M539.5 265.3h0M543.7 256.4h0M547.9 251.8h0M552.1 256.4h0M556.3 277.1h0" stroke="#ff7f0e" stroke-width="4.5" stroke-linecap="round" fill="none"/>
<path d="M140.5 130.2 144.7 129 148.9 128.4 153.1 133.7 157.3 129.9 161.5 139.1 165.7 127.5 169.9 132.4 174.1 139.2 178.3 136.7 182.5 136.5 186.7 138.6 190.9 125.4 195.1 136.6 199.3 132.1 203.5 138.6 207.7 135.5 211.9 139.8 216.1 141.1 220.3 138.7 224.5 139 228.7 136.1 232.9 139 237.1 135.6 241.3 138.6 245.5 137.3 249.7 138.8 253.9 144.4 258.1 145.1 262.3 143.3 266.5 144 270.7 142 274.9 142 279.1 139.2 283.3 137.4 287.5 141.8 291.7 139.4 295.9 142.7 300.1 146.4 304.3 143.4 308.5 140.7 312.7 143 316.9 142.8 321.1 140.2 325.3 143.2 329.5 148.1 333.7 142.3 337.9 144.8 342.1 148.9 346.3 149.4 350.5 143.6 354.7 145.4 358.9 144.4 363.1 143.3 367.3 146.8 371.5 147.6 375.7 145.4 379.9 147 384.1 151.6 388.3 148.1 392.5 146.2 396.7 149.1 400.9 147.3 405.1 144.1 409.3 148.2 413.5 158.1 417.7 148.2 421.9 147.6 426.1 149 430.3 151.6 434.5 153.4 438.7 152.7 442.9 153.6 447.1 151.7 451.3 152.3 455.5 153.2 459.7 148.6 463.9 154.4 468.1 153.9 472.3 153.9 476.5 155.6 480.7 154.9 484.9 150.9 489.1 154.1 493.3 150.7 497.5 154.3 501.7 156.4 505.9 149.2 510.1 153.5 514.3 155.3 518.5 154.3 522.7 157.7 526.9 157.6 531.1 158 535.3 154.8 539.5 155.2 543.7 153.7 547.9 151.6 552.1 158.9 556.3 159.4" stroke="#2ca02c" stroke-opacity="0.75" stroke-width="1.05" fill="none" stroke-linejoin="round"/>
<path d="M140.5 130.2h0M144.7 129h0M148.9 128.4h0M153.1 133.7h0M157.3 129.9h0M161.5 139.1h0M165.7 127.5h0M169.9 132.4h0M174.1 139.2h0M178.3 136.7h0M182.5 136.5h0M186.7 138.6h0M190.9 125.4h0M195.1 136.6h0M199.3 132.1h0M203.5 138.6h0M207.7 135.5h0M211.9 139.8h0M216.1 141.1h0M220.3 138.7h0M224.5 139h0M228.7 136.1h0M232.9 139h0M237.1 135.6h0M241.3 138.6h0M245.5 137.3h0M249.7 138.8h0M253.9 144.4h0M258.1 145.1h0M262.3 143.3h0M266.5 144h0M270.7 142h0M274.9 142h0M279.1 139.2h0M283.3 137.4h0M287.5 141.8h0M291.7 139.4h0M295.9 142.7h0M300.1 146.4h0M304.3 143.4h0M308.5 140.7h0M312.7 143h0M316.9 142.8h0M321.1 140.2h0M325.3 143.2h0M329.5 148.1h0M333.7 142.3h0M337.9 144.8h0M342.1 148.9h0M346.3 149.4h0M350.5 143.6h0M354.7 145.4h0M358.9 144.4h0M363.1 143.3h0M367.3 146.8h0M371.5 147.6h0M375.7 145.4h0M379.9 147h0M384.1 151.6h0M388.3 148.1h0M392.5 146.2h0M396.7 149.1h0M400.9 147.3h0M405.1 144.1h0M409.3 148.2h0M413.5 158.1h0M417.7 148.2h0M421.9 147.6h0M426.1 149h0M430.3 151.6h0M434.5 153.4h0M438.7 152.7h0M442.9 153.6h0M447.1 151.7h0M451.3 152.3h0M455.5 153.2h0M459.7 148.6h0M463.9 154.4h0M468.1 153.9h0M472.3 153.9h0M476.5 155.6h0M480.7 154.9h0M484.9 150.9h0M489.1 154.1h0M493.3 150.7h0M497.5 154.3h0M501.7 156.4h0M505.9 149.2h0M510.1 153.5h0M514.3 155.3h0M518.5 154.3h0M522.7 157.7h0M526.9 157.6h0M531.1 158h0M535.3 154.8h0M539.5 155.2h0M543.7 153.7h0M547.9 151.6h0M552.1 158.9h0M556.3 159.4h0" stroke="#2ca02c" stroke-width="4.5" stroke-linecap="round" fill="none"/>
<path d="M140.5 165 144.7 152.8 148.9 176.9 153.1 200 157.3 211.5 161.5 213.6 165.7 200 169.9 215 174.1 190.8 178.3 206 182.5 222 186.7 226 190.9 215.6 195.1 232.2 199.3 214 203.5 212 207.7 168 211.9 213 216.1 205.2 220.3 180.2 224.5 192.6 228.7 227 232.9 222 237.1 200 241.3 206.2 245.5 207.3 249.7 192 253.9 207.3 258.1 201 262.3 214 266.5 255 270.7 247.7 274.9 212.4 279.1 211 283.3 203 287.5 198 291.7 195 295.9 200 300.1 178.1 304.3 223.8 308.5 192 312.7 193.7 316.9 205 321.1 208 325.3 206 329.5 194 333.7 212 337.9 212.8 342.1 208.3 346.3 230 350.5 210.4 354.7 221 358.9 212.4 363.1 225.9 367.3 250 371.5 245 375.7 222 379.9 228 384.1 210 388.3 217.6 392.5 199.3 396.7 206.5 400.9 215 405.1 211.4 409.3 218 413.5 205 417.7 208 421.9 215.5 426.1 190 430.3 244 434.5 207.2 438.7 216.2 442.9 192.6 447.1 209.3 451.3 202 455.5 220.7 459.7 203 463.9 233 468.1 232 472.3 196.8 476.5 196.8 480.7 221 484.9 223.8 489.1 242.5 493.3 237 497.5 232 501.7 215.5 505.9 188.5 510.1 224 514.3 239.4 518.5 221 522.7 218 526.9 223.8 531.1 212.8 535.3 231.1 539.5 225.9 543.7 222 547.9 212 552.1 222 556.3 227" stroke="#d62728" stroke-opacity="0.75" stroke-width="1.05" fill="none" stroke-linejoin="round"/>
<path d="M140.5 165h0M144.7 152.8h0M148.9 176.9h0M153.1 200h0M157.3 211.5h0M161.5 213.6h0M165.7 200h0M169.9 215h0M174.1 190.8h0M178.3 206h0M182.5 222h0M186.7 226h0M190.9 215.6h0M195.1 232.2h0M199.3 214h0M203.5 212h0M207.7 168h0M211.9 213h0M216.1 205.2h0M220.3 180.2h0M224.5 192.6h0M228.7 227h0M232.9 222h0M237.1 200h0M241.3 206.2h0M245.5 207.3h0M249.7 192h0M253.9 207.3h0M258.1 201h0M262.3 214h0M266.5 255h0M270.7 247.7h0M274.9 212.4h0M279.1 211h0M283.3 203h0M287.5 198h0M291.7 195h0M295.9 200h0M300.1 178.1h0M304.3 223.8h0M308.5 192h0M312.7 193.7h0M316.9 205h0M321.1 208h0M325.3 206h0M329.5 194h0M333.7 212h0M337.9 212.8h0M342.1 208.3h0M346.3 230h0M350.5 210.4h0M354.7 221h0M358.9 212.4h0M363.1 225.9h0M367.3 250h0M371.5 245h0M375.7 222h0M379.9 228h0M384.1 210h0M388.3 217.6h0M392.5 199.3h0M396.7 206.5h0M400.9 215h0M405.1 211.4h0M409.3 218h0M413.5 205h0M417.7 208h0M421.9 215.5h0M426.1 190h0M430.3 244h0M434.5 207.2h0M438.7 216.2h0M442.9 192.6h0M447.1 209.3h0M451.3 202h0M455.5 220.7h0M459.7 203h0M463.9 233h0M468.1 232h0M472.3 196.8h0M476.5 196.8h0M480.7 221h0M484.9 223.8h0M489.1 242.5h0M493.3 237h0M497.5 232h0M501.7 215.5h0M505.9 188.5h0M510.1 224h0M514.3 239.4h0M518.5 221h0M522.7 218h0M526.9 223.8h0M531.1 212.8h0M535.3 231.1h0M539.5 225.9h0M543.7 222h0M547.9 212h0M552.1 222h0M556.3 227h0" stroke="#d62728" stroke-width="4.5" stroke-linecap="round" fill="none"/>
<path d="M140.5 131.2 144.7 124.4 148.9 127.7 153.1 130.7 157.3 128.8 161.5 137.3 165.7 123.9 169.9 130 174.1 136.5 178.3 136.1 182.5 133.6 186.7 135.1 190.9 125.8 195.1 134.8 199.3 130.1 203.5 136.1 207.7 137 211.9 136.7 216.1 139.5 220.3 138.4 224.5 138.6 228.7 137.2 232.9 138.1 237.1 132.8 241.3 134.6 245.5 136.6 249.7 138.6 253.9 142.4 258.1 141.4 262.3 142.1 266.5 140 270.7 141.4 274.9 141.7 279.1 139.2 283.3 134.3 287.5 140.3 291.7 135.1 295.9 142.8 300.1 143.3 304.3 140.9 308.5 140.5 312.7 141.8 316.9 138.1 321.1 137.8 325.3 142.3 329.5 147.8 333.7 143.8 337.9 143.5 342.1 146.7 346.3 149.1 350.5 141.5 354.7 142.8 358.9 143.3 363.1 144.1 367.3 145.6 371.5 145.1 375.7 145.1 379.9 143.3 384.1 151.8 388.3 147.5 392.5 142 396.7 148.1 400.9 144.9 405.1 142.5 409.3 143.8 413.5 153.7 417.7 149.8 421.9 146.5 426.1 145.6 430.3 149.5 434.5 151.4 438.7 149.3 442.9 152.7 447.1 148.7 451.3 149.4 455.5 150.8 459.7 148.8 463.9 152 468.1 152.6 472.3 148.1 476.5 154.9 480.7 151.8 484.9 150.2 489.1 154.3 493.3 149.4 497.5 151.3 501.7 154.6 505.9 146.4 510.1 153.5 514.3 150.4 518.5 152.8 522.7 154.6 526.9 157 531.1 158.2 535.3 152.7 539.5 153.1 543.7 152 547.9 150.3 552.1 158 556.3 157.4" stroke="#9467bd" stroke-opacity="0.75" stroke-width="1.05" fill="none" stroke-linejoin="round"/>
<path d="M140.5 131.2h0M144.7 124.4h0M148.9 127.7h0M153.1 130.7h0M157.3 128.8h0M161.5 137.3h0M165.7 123.9h0M169.9 130h0M174.1 136.5h0M178.3 136.1h0M182.5 133.6h0M186.7 135.1h0M190.9 125.8h0M195.1 134.8h0M199.3 130.1h0M203.5 136.1h0M207.7 137h0M211.9 136.7h0M216.1 139.5h0M220.3 138.4h0M224.5 138.6h0M228.7 137.2h0M232.9 138.1h0M237.1 132.8h0M241.3 134.6h0M245.5 136.6h0M249.7 138.6h0M253.9 142.4h0M258.1 141.4h0M262.3 142.1h0M266.5 140h0M270.7 141.4h0M274.9 141.7h0M279.1 139.2h0M283.3 134.3h0M287.5 140.3h0M291.7 135.1h0M295.9 142.8h0M300.1 143.3h0M304.3 140.9h0M308.5 140.5h0M312.7 141.8h0M316.9 138.1h0M321.1 137.8h0M325.3 142.3h0M329.5 147.8h0M333.7 143.8h0M337.9 143.5h0M342.1 146.7h0M346.3 149.1h0M350.5 141.5h0M354.7 142.8h0M358.9 143.3h0M363.1 144.1h0M367.3 145.6h0M371.5 145.1h0M375.7 145.1h0M379.9 143.3h0M384.1 151.8h0M388.3 147.5h0M392.5 142h0M396.7 148.1h0M400.9 144.9h0M405.1 142.5h0M409.3 143.8h0M413.5 153.7h0M417.7 149.8h0M421.9 146.5h0M426.1 145.6h0M430.3 149.5h0M434.5 151.4h0M438.7 149.3h0M442.9 152.7h0M447.1 148.7h0M451.3 149.4h0M455.5 150.8h0M459.7 148.8h0M463.9 152h0M468.1 152.6h0M472.3 148.1h0M476.5 154.9h0M480.7 151.8h0M484.9 150.2h0M489.1 154.3h0M493.3 149.4h0M497.5 151.3h0M501.7 154.6h0M505.9 146.4h0M510.1 153.5h0M514.3 150.4h0M518.5 152.8h0M522.7 154.6h0M526.9 157h0M531.1 158.2h0M535.3 152.7h0M539.5 153.1h0M543.7 152h0M547.9 150.3h0M552.1 158h0M556.3 157.4h0" stroke="#9467bd" stroke-width="4.5" stroke-linecap="round" fill="none"/>
<path d="M140.5 165 144.7 150 148.9 192.8 153.1 201.8 157.3 217.7 161.5 210 165.7 201.1 169.9 213 174.1 200 178.3 210.5 182.5 220.8 186.7 225 190.9 218 195.1 234 199.3 213.6 203.5 212.5 207.7 160.1 211.9 212.5 216.1 208 220.3 185 224.5 194 228.7 227 232.9 219.7 237.1 195.8 241.3 201 245.5 210 249.7 188.5 253.9 202 258.1 202 262.3 215.5 266.5 236.3 270.7 245 274.9 215 279.1 209.3 283.3 203 287.5 195.8 291.7 187.5 295.9 200 300.1 182 304.3 232 308.5 194 312.7 187.5 316.9 208 321.1 202 325.3 206 329.5 187.5 333.7 212 337.9 215 342.1 215.5 346.3 236.3 350.5 216.6 354.7 225 358.9 215 363.1 228 367.3 255 371.5 244.6 375.7 220.7 379.9 232 384.1 209 388.3 228 392.5 205 396.7 207 400.9 219.7 405.1 212 409.3 222.8 413.5 203 417.7 207 421.9 228 426.1 186 430.3 243.5 434.5 210 438.7 208.3 442.9 187.5 447.1 217.6 451.3 204 455.5 222 459.7 198.9 463.9 230 468.1 228 472.3 193.7 476.5 194 480.7 222 484.9 225 489.1 235.2 493.3 230 497.5 234 501.7 215.5 505.9 183.3 510.1 222.8 514.3 242 518.5 222.8 522.7 216.6 526.9 226 531.1 212.4 535.3 241.5 539.5 231.1 543.7 222 547.9 213.5 552.1 220.7 556.3 228" stroke="#8c564b" stroke-opacity="0.75" stroke-width="1.05" fill="none" stroke-linejoin="round"/>
<path d="M140.5 165h0M144.7 150h0M148.9 192.8h0M153.1 201.8h0M157.3 217.7h0M161.5 210h0M165.7 201.1h0M169.9 213h0M174.1 200h0M178.3 210.5h0M182.5 220.8h0M186.7 225h0M190.9 218h0M195.1 234h0M199.3 213.6h0M203.5 212.5h0M207.7 160.1h0M211.9 212.5h0M216.1 208h0M220.3 185h0M224.5 194h0M228.7 227h0M232.9 219.7h0M237.1 195.8h0M241.3 201h0M245.5 210h0M249.7 188.5h0M253.9 202h0M258.1 202h0M262.3 215.5h0M266.5 236.3h0M270.7 245h0M274.9 215h0M279.1 209.3h0M283.3 203h0M287.5 195.8h0M291.7 187.5h0M295.9 200h0M300.1 182h0M304.3 232h0M308.5 194h0M312.7 187.5h0M316.9 208h0M321.1 202h0M325.3 206h0M329.5 187.5h0M333.7 212h0M337.9 215h0M342.1 215.5h0M346.3 236.3h0M350.5 216.6h0M354.7 225h0M358.9 215h0M363.1 228h0M367.3 255h0M371.5 244.6h0M375.7 220.7h0M379.9 232h0M384.1 209h0M388.3 228h0M392.5 205h0M396.7 207h0M400.9 219.7h0M405.1 212h0M409.3 222.8h0M413.5 203h0M417.7 207h0M421.9 228h0M426.1 186h0M430.3 243.5h0M434.5 210h0M438.7 208.3h0M442.9 187.5h0M447.1 217.6h0M451.3 204h0M455.5 222h0M459.7 198.9h0M463.9 230h0M468.1 228h0M472.3 193.7h0M476.5 194h0M480.7 222h0M484.9 225h0M489.1 235.2h0M493.3 230h0M497.5 234h0M501.7 215.5h0M505.9 183.3h0M510.1 222.8h0M514.3 242h0M518.5 222.8h0M522.7 216.6h0M526.9 226h0M531.1 212.4h0M535.3 241.5h0M539.5 231.1h0M543.7 222h0M547.9 213.5h0M552.1 220.7h0M556.3 228h0" stroke="#8c564b" stroke-width="4.5" stroke-linecap="round" fill="none"/>
<path d="M140.5 160 144.7 144.6 148.9 204.2 153.1 206.3 157.3 231.2 161.5 208.4 165.7 194.9 169.9 211.5 174.1 204.2 178.3 208.4 182.5 232.2 186.7 237.4 190.9 224 195.1 237.4 199.3 218.8 203.5 219.8 207.7 175.6 211.9 225 216.1 213.6 220.3 190 224.5 201 228.7 231 232.9 229 237.1 208.3 241.3 213.5 245.5 215.5 249.7 194.7 253.9 210 258.1 205 262.3 212 266.5 250 270.7 253.9 274.9 221.8 279.1 212 283.3 206 287.5 199 291.7 195 295.9 204 300.1 183 304.3 232 308.5 190.6 312.7 196 316.9 211 321.1 212 325.3 210 329.5 196 333.7 214.5 337.9 220.7 342.1 214 346.3 236.3 350.5 214 354.7 229 358.9 227 363.1 230 367.3 254 371.5 250 375.7 226 379.9 243.5 384.1 207.3 388.3 222 392.5 205 396.7 208 400.9 228 405.1 212 409.3 220 413.5 204 417.7 205 421.9 241.5 426.1 195.8 430.3 246.6 434.5 224.9 438.7 214 442.9 196 447.1 215 451.3 206 455.5 227 459.7 204 463.9 227 468.1 236.3 472.3 186.4 476.5 189.5 480.7 220.7 484.9 223.8 489.1 247.7 493.3 233 497.5 233 501.7 217 505.9 195.8 510.1 225.9 514.3 252.8 518.5 220.7 522.7 219.7 526.9 230 531.1 215.5 535.3 236.3 539.5 228 543.7 222.8 547.9 210 552.1 237.7 556.3 232.1" stroke="#e377c2" stroke-opacity="0.75" stroke-width="1.05" fill="none" stroke-linejoin="round"/>
<path d="M140.5 160h0M144.7 144.6h0M148.9 204.2h0M153.1 206.3h0M157.3 231.2h0M161.5 208.4h0M165.7 194.9h0M169.9 211.5h0M174.1 204.2h0M178.3 208.4h0M182.5 232.2h0M186.7 237.4h0M190.9 224h0M195.1 237.4h0M199.3 218.8h0M203.5 219.8h0M207.7 175.6h0M211.9 225h0M216.1 213.6h0M220.3 190h0M224.5 201h0M228.7 231h0M232.9 229h0M237.1 208.3h0M241.3 213.5h0M245.5 215.5h0M249.7 194.7h0M253.9 210h0M258.1 205h0M262.3 212h0M266.5 250h0M270.7 253.9h0M274.9 221.8h0M279.1 212h0M283.3 206h0M287.5 199h0M291.7 195h0M295.9 204h0M300.1 183h0M304.3 232h0M308.5 190.6h0M312.7 196h0M316.9 211h0M321.1 212h0M325.3 210h0M329.5 196h0M333.7 214.5h0M337.9 220.7h0M342.1 214h0M346.3 236.3h0M350.5 214h0M354.7 229h0M358.9 227h0M363.1 230h0M367.3 254h0M371.5 250h0M375.7 226h0M379.9 243.5h0M384.1 207.3h0M388.3 222h0M392.5 205h0M396.7 208h0M400.9 228h0M405.1 212h0M409.3 220h0M413.5 204h0M417.7 205h0M421.9 241.5h0M426.1 195.8h0M430.3 246.6h0M434.5 224.9h0M438.7 214h0M442.9 196h0M447.1 215h0M451.3 206h0M455.5 227h0M459.7 204h0M463.9 227h0M468.1 236.3h0M472.3 186.4h0M476.5 189.5h0M480.7 220.7h0M484.9 223.8h0M489.1 247.7h0M493.3 233h0M497.5 233h0M501.7 217h0M505.9 195.8h0M510.1 225.9h0M514.3 252.8h0M518.5 220.7h0M522.7 219.7h0M526.9 230h0M531.1 215.5h0M535.3 236.3h0M539.5 228h0M543.7 222.8h0M547.9 210h0M552.1 237.7h0M556.3 232.1h0" stroke="#e377c2" stroke-width="4.5" stroke-linecap="round" fill="none"/>
</g>
<path d="M503 117V123.5Q503 126.3 506 126.3H563Q566 126.3 566 123.5V117" stroke="#e4e4e4" stroke-width="0.8" fill="none"/>
<path d="M139 294.4H572.2" stroke="#555" stroke-width="0.8" fill="none"/>
<path d="M140.5 294.4v2M224.5 294.4v2M308.5 294.4v2M392.5 294.4v2M476.5 294.4v2M560.5 294.4v2" stroke="#555" stroke-width="0.6" fill="none"/>
<text x="140.5" y="304.2" font-size="6.2" text-anchor="middle" fill="#333" style="stroke-width:0.1px" clip-path="url(#tc)">300</text>
<text x="224.5" y="304.2" font-size="6.2" text-anchor="middle" fill="#333" style="stroke-width:0.1px" clip-path="url(#tc)">320</text>
<text x="308.5" y="304.2" font-size="6.2" text-anchor="middle" fill="#333" style="stroke-width:0.1px" clip-path="url(#tc)">340</text>
<text x="392.5" y="304.2" font-size="6.2" text-anchor="middle" fill="#333" style="stroke-width:0.1px" clip-path="url(#tc)">360</text>
<text x="476.5" y="304.2" font-size="6.2" text-anchor="middle" fill="#333" style="stroke-width:0.1px" clip-path="url(#tc)">380</text>
<text x="560.5" y="304.2" font-size="6.2" text-anchor="middle" fill="#333" style="stroke-width:0.1px" clip-path="url(#tc)">400</text>
<rect x="138.8" y="118.5" width="435.6" height="188" fill="none" stroke="#1ca3dd" stroke-width="3"/>
<rect x="576.6" y="34.3" width="94.6" height="178.3" rx="3" fill="#fff" fill-opacity="0.8" stroke="#e0e0e0" stroke-width="0.8"/>
<path d="M583 47H618" stroke="#1f77b4" stroke-opacity="0.7" stroke-width="1.5"/>
<circle cx="600.3" cy="47" r="3.1" fill="#1f77b4"/>
<text x="631.3" y="52.4" font-size="16.4">A</text>
<path d="M583 72H618" stroke="#ff7f0e" stroke-opacity="0.7" stroke-width="1.5"/>
<circle cx="600.3" cy="72" r="3.1" fill="#ff7f0e"/>
<text x="631.3" y="77.4" font-size="16.4">B</text>
<path d="M583 96.9H618" stroke="#2ca02c" stroke-opacity="0.7" stroke-width="1.5"/>
<circle cx="600.3" cy="96.9" r="3.1" fill="#2ca02c"/>
<text x="631.3" y="102.3" font-size="16.4">C</text>
<path d="M583 121.8H618" stroke="#d62728" stroke-opacity="0.7" stroke-width="1.5"/>
<circle cx="600.3" cy="121.8" r="3.1" fill="#d62728"/>
<text x="631.3" y="127.2" font-size="16.4">D</text>
<path d="M583 146.8H618" stroke="#9467bd" stroke-opacity="0.7" stroke-width="1.5"/>
<circle cx="600.3" cy="146.8" r="3.1" fill="#9467bd"/>
<text x="631.3" y="152.2" font-size="16.4">E</text>
<path d="M583 171.8H618" stroke="#8c564b" stroke-opacity="0.7" stroke-width="1.5"/>
<circle cx="600.3" cy="171.8" r="3.1" fill="#8c564b"/>
<text x="631.3" y="177.2" font-size="16.4">F</text>
<path d="M583 196.7H618" stroke="#e377c2" stroke-opacity="0.7" stroke-width="1.5"/>
<circle cx="600.3" cy="196.7" r="3.1" fill="#e377c2"/>
<text x="631.3" y="202.1" font-size="16.4">Ours</text>
<ellipse cx="577.6" cy="397.4" rx="72.8" ry="21.7" fill="none" stroke="#ee0e0e" stroke-width="5"/>
<path d="M578 375L471 290" stroke="#ee0e0e" stroke-width="5" fill="none"/>
<path d="M463.8 282.8L479.6 286.2L469.6 297.4Z" fill="#ee0e0e"/>
</svg></body></html>
